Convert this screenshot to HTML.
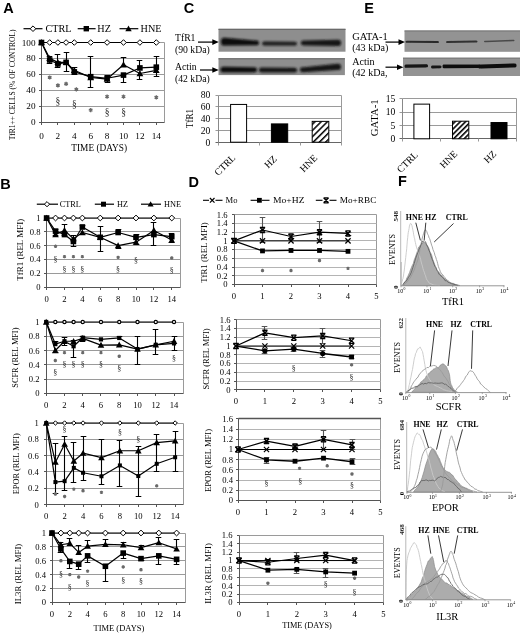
<!DOCTYPE html><html><head><meta charset="utf-8"><style>html,body{margin:0;padding:0;background:#fff;}svg{display:block;filter:grayscale(1) blur(0.35px);}</style></head><body>
<svg width="520" height="636" viewBox="0 0 520 636">
<defs><filter id="bl" x="-20%" y="-50%" width="140%" height="200%"><feGaussianBlur stdDeviation="1.2"/></filter><filter id="bl2" x="-20%" y="-50%" width="140%" height="200%"><feGaussianBlur stdDeviation="0.7"/></filter><pattern id="hatch" patternUnits="userSpaceOnUse" width="4.4" height="4.4" patternTransform="rotate(45)"><rect width="4.4" height="4.4" fill="#fff"/><rect width="1.5" height="4.4" fill="#000"/></pattern><pattern id="hatchE" patternUnits="userSpaceOnUse" width="3.7" height="3.7" patternTransform="rotate(45)"><rect width="3.7" height="3.7" fill="#fff"/><rect width="1.6" height="3.7" fill="#000"/></pattern></defs>
<rect width="520" height="636" fill="#fff"/>
<text x="3.20" y="12.60" font-family="'Liberation Sans', sans-serif" font-size="14.5" font-weight="bold" text-anchor="start" fill="#000">A</text>
<text x="0.20" y="188.50" font-family="'Liberation Sans', sans-serif" font-size="14.5" font-weight="bold" text-anchor="start" fill="#000">B</text>
<text x="183.80" y="12.60" font-family="'Liberation Sans', sans-serif" font-size="14.5" font-weight="bold" text-anchor="start" fill="#000">C</text>
<text x="188.60" y="187.10" font-family="'Liberation Sans', sans-serif" font-size="14.5" font-weight="bold" text-anchor="start" fill="#000">D</text>
<text x="364.30" y="12.50" font-family="'Liberation Sans', sans-serif" font-size="14.5" font-weight="bold" text-anchor="start" fill="#000">E</text>
<text x="398.00" y="186.40" font-family="'Liberation Sans', sans-serif" font-size="14.5" font-weight="bold" text-anchor="start" fill="#000">F</text>
<path d="M41.50,42.50L164.50,42.50L164.50,122.50" stroke="#9a9a9a" stroke-width="1" fill="none"/>
<line x1="41.50" y1="106.50" x2="164.50" y2="106.50" stroke="#9a9a9a" stroke-width="1"/>
<line x1="41.50" y1="90.50" x2="164.50" y2="90.50" stroke="#9a9a9a" stroke-width="1"/>
<line x1="41.50" y1="74.50" x2="164.50" y2="74.50" stroke="#9a9a9a" stroke-width="1"/>
<line x1="41.50" y1="58.50" x2="164.50" y2="58.50" stroke="#9a9a9a" stroke-width="1"/>
<line x1="41.50" y1="42.50" x2="41.50" y2="123.00" stroke="#555" stroke-width="1"/>
<line x1="39.00" y1="122.50" x2="164.50" y2="122.50" stroke="#555" stroke-width="1"/>
<line x1="39.00" y1="122.50" x2="41.50" y2="122.50" stroke="#555" stroke-width="1"/>
<text x="35.50" y="125.00" font-family="'Liberation Serif', serif" font-size="9.2" font-weight="normal" text-anchor="end" fill="#000">0</text>
<line x1="39.00" y1="106.50" x2="41.50" y2="106.50" stroke="#555" stroke-width="1"/>
<text x="35.50" y="109.10" font-family="'Liberation Serif', serif" font-size="9.2" font-weight="normal" text-anchor="end" fill="#000">20</text>
<line x1="39.00" y1="90.50" x2="41.50" y2="90.50" stroke="#555" stroke-width="1"/>
<text x="35.50" y="93.20" font-family="'Liberation Serif', serif" font-size="9.2" font-weight="normal" text-anchor="end" fill="#000">40</text>
<line x1="39.00" y1="74.50" x2="41.50" y2="74.50" stroke="#555" stroke-width="1"/>
<text x="35.50" y="77.30" font-family="'Liberation Serif', serif" font-size="9.2" font-weight="normal" text-anchor="end" fill="#000">60</text>
<line x1="39.00" y1="58.50" x2="41.50" y2="58.50" stroke="#555" stroke-width="1"/>
<text x="35.50" y="61.40" font-family="'Liberation Serif', serif" font-size="9.2" font-weight="normal" text-anchor="end" fill="#000">80</text>
<line x1="39.00" y1="42.50" x2="41.50" y2="42.50" stroke="#555" stroke-width="1"/>
<text x="35.50" y="45.50" font-family="'Liberation Serif', serif" font-size="9.2" font-weight="normal" text-anchor="end" fill="#000">100</text>
<line x1="41.50" y1="122.50" x2="41.50" y2="125.00" stroke="#555" stroke-width="1"/>
<text x="41.50" y="138.80" font-family="'Liberation Serif', serif" font-size="9.2" font-weight="normal" text-anchor="middle" fill="#000">0</text>
<line x1="57.50" y1="122.50" x2="57.50" y2="125.00" stroke="#555" stroke-width="1"/>
<text x="57.90" y="138.80" font-family="'Liberation Serif', serif" font-size="9.2" font-weight="normal" text-anchor="middle" fill="#000">2</text>
<line x1="74.50" y1="122.50" x2="74.50" y2="125.00" stroke="#555" stroke-width="1"/>
<text x="74.30" y="138.80" font-family="'Liberation Serif', serif" font-size="9.2" font-weight="normal" text-anchor="middle" fill="#000">4</text>
<line x1="90.50" y1="122.50" x2="90.50" y2="125.00" stroke="#555" stroke-width="1"/>
<text x="90.70" y="138.80" font-family="'Liberation Serif', serif" font-size="9.2" font-weight="normal" text-anchor="middle" fill="#000">6</text>
<line x1="107.50" y1="122.50" x2="107.50" y2="125.00" stroke="#555" stroke-width="1"/>
<text x="107.10" y="138.80" font-family="'Liberation Serif', serif" font-size="9.2" font-weight="normal" text-anchor="middle" fill="#000">8</text>
<line x1="123.50" y1="122.50" x2="123.50" y2="125.00" stroke="#555" stroke-width="1"/>
<text x="123.50" y="138.80" font-family="'Liberation Serif', serif" font-size="9.2" font-weight="normal" text-anchor="middle" fill="#000">10</text>
<line x1="139.50" y1="122.50" x2="139.50" y2="125.00" stroke="#555" stroke-width="1"/>
<text x="139.90" y="138.80" font-family="'Liberation Serif', serif" font-size="9.2" font-weight="normal" text-anchor="middle" fill="#000">12</text>
<line x1="156.50" y1="122.50" x2="156.50" y2="125.00" stroke="#555" stroke-width="1"/>
<text x="156.30" y="138.80" font-family="'Liberation Serif', serif" font-size="9.2" font-weight="normal" text-anchor="middle" fill="#000">14</text>
<path d="M49.50,58.40L49.50,56.50M46.70,56.50L52.30,56.50" stroke="#000" stroke-width="1.1" fill="none"/>
<path d="M49.50,59.99L49.50,63.50M46.70,63.50L52.30,63.50" stroke="#000" stroke-width="1.1" fill="none"/>
<path d="M57.50,62.38L57.50,54.50M54.70,54.50L60.30,54.50" stroke="#000" stroke-width="1.1" fill="none"/>
<path d="M57.50,63.97L57.50,67.50M54.70,67.50L60.30,67.50" stroke="#000" stroke-width="1.1" fill="none"/>
<path d="M66.50,62.38L66.50,52.50M63.70,52.50L69.30,52.50" stroke="#000" stroke-width="1.1" fill="none"/>
<path d="M66.50,62.38L66.50,71.50M63.70,71.50L69.30,71.50" stroke="#000" stroke-width="1.1" fill="none"/>
<path d="M74.50,70.32L74.50,67.50M71.70,67.50L77.30,67.50" stroke="#000" stroke-width="1.1" fill="none"/>
<path d="M74.50,71.91L74.50,74.50M71.70,74.50L77.30,74.50" stroke="#000" stroke-width="1.1" fill="none"/>
<path d="M90.50,76.69L90.50,56.50M87.70,56.50L93.30,56.50" stroke="#000" stroke-width="1.1" fill="none"/>
<path d="M90.50,77.48L90.50,87.50M87.70,87.50L93.30,87.50" stroke="#000" stroke-width="1.1" fill="none"/>
<path d="M107.50,78.28L107.50,75.50M104.70,75.50L110.30,75.50" stroke="#000" stroke-width="1.1" fill="none"/>
<path d="M107.50,79.07L107.50,82.50M104.70,82.50L110.30,82.50" stroke="#000" stroke-width="1.1" fill="none"/>
<path d="M123.50,64.76L123.50,57.50M120.70,57.50L126.30,57.50" stroke="#000" stroke-width="1.1" fill="none"/>
<path d="M123.50,75.09L123.50,82.50M120.70,82.50L126.30,82.50" stroke="#000" stroke-width="1.1" fill="none"/>
<path d="M139.50,67.94L139.50,60.50M136.70,60.50L142.30,60.50" stroke="#000" stroke-width="1.1" fill="none"/>
<path d="M139.50,73.50L139.50,79.50M136.70,79.50L142.30,79.50" stroke="#000" stroke-width="1.1" fill="none"/>
<path d="M156.50,67.15L156.50,56.50M153.70,56.50L159.30,56.50" stroke="#000" stroke-width="1.1" fill="none"/>
<path d="M156.50,70.32L156.50,76.50M153.70,76.50L159.30,76.50" stroke="#000" stroke-width="1.1" fill="none"/>
<polyline points="41.50,42.50 49.70,42.50 57.90,42.50 66.10,42.50 74.30,42.50 90.70,42.50 107.10,42.50 123.50,42.50 139.90,42.50 156.30,42.50" fill="none" stroke="#000" stroke-width="1.2" stroke-linejoin="round"/>
<polyline points="41.50,42.50 49.70,58.40 57.90,62.38 66.10,62.38 74.30,70.32 90.70,77.48 107.10,79.07 123.50,64.76 139.90,73.50 156.30,70.32" fill="none" stroke="#000" stroke-width="1.2" stroke-linejoin="round"/>
<polyline points="41.50,42.50 49.70,59.99 57.90,63.97 66.10,62.38 74.30,71.91 90.70,76.69 107.10,78.28 123.50,75.09 139.90,67.94 156.30,67.15" fill="none" stroke="#000" stroke-width="1.2" stroke-linejoin="round"/>
<polygon points="49.70,39.70 52.50,42.50 49.70,45.30 46.90,42.50" fill="#fff" stroke="#000" stroke-width="1"/>
<polygon points="57.90,39.70 60.70,42.50 57.90,45.30 55.10,42.50" fill="#fff" stroke="#000" stroke-width="1"/>
<polygon points="66.10,39.70 68.90,42.50 66.10,45.30 63.30,42.50" fill="#fff" stroke="#000" stroke-width="1"/>
<polygon points="74.30,39.70 77.10,42.50 74.30,45.30 71.50,42.50" fill="#fff" stroke="#000" stroke-width="1"/>
<polygon points="90.70,39.70 93.50,42.50 90.70,45.30 87.90,42.50" fill="#fff" stroke="#000" stroke-width="1"/>
<polygon points="107.10,39.70 109.90,42.50 107.10,45.30 104.30,42.50" fill="#fff" stroke="#000" stroke-width="1"/>
<polygon points="123.50,39.70 126.30,42.50 123.50,45.30 120.70,42.50" fill="#fff" stroke="#000" stroke-width="1"/>
<polygon points="139.90,39.70 142.70,42.50 139.90,45.30 137.10,42.50" fill="#fff" stroke="#000" stroke-width="1"/>
<polygon points="156.30,39.70 159.10,42.50 156.30,45.30 153.50,42.50" fill="#fff" stroke="#000" stroke-width="1"/>
<polygon points="41.50,39.10 44.90,45.22 38.10,45.22" fill="#000"/>
<polygon points="49.70,55.00 53.10,61.12 46.30,61.12" fill="#000"/>
<polygon points="57.90,58.98 61.30,65.09 54.50,65.09" fill="#000"/>
<polygon points="66.10,58.98 69.50,65.09 62.70,65.09" fill="#000"/>
<polygon points="74.30,66.92 77.70,73.04 70.90,73.04" fill="#000"/>
<polygon points="90.70,74.08 94.10,80.20 87.30,80.20" fill="#000"/>
<polygon points="107.10,75.67 110.50,81.79 103.70,81.79" fill="#000"/>
<polygon points="123.50,61.36 126.90,67.48 120.10,67.48" fill="#000"/>
<polygon points="139.90,70.10 143.30,76.22 136.50,76.22" fill="#000"/>
<polygon points="156.30,66.92 159.70,73.04 152.90,73.04" fill="#000"/>
<rect x="38.70" y="39.70" width="5.60" height="5.60" fill="#000"/>
<rect x="46.90" y="57.19" width="5.60" height="5.60" fill="#000"/>
<rect x="55.10" y="61.17" width="5.60" height="5.60" fill="#000"/>
<rect x="63.30" y="59.58" width="5.60" height="5.60" fill="#000"/>
<rect x="71.50" y="69.11" width="5.60" height="5.60" fill="#000"/>
<rect x="87.90" y="73.89" width="5.60" height="5.60" fill="#000"/>
<rect x="104.30" y="75.48" width="5.60" height="5.60" fill="#000"/>
<rect x="120.70" y="72.30" width="5.60" height="5.60" fill="#000"/>
<rect x="137.10" y="65.14" width="5.60" height="5.60" fill="#000"/>
<rect x="153.50" y="64.35" width="5.60" height="5.60" fill="#000"/>
<path d="M49.70,75.38L49.70,79.58M51.52,76.43L47.88,78.53M51.52,78.53L47.88,76.43" stroke="#6a6a6a" stroke-width="1.3" fill="none"/>
<circle cx="49.70" cy="77.48" r="1.1" fill="#6a6a6a"/>
<path d="M57.90,83.33L57.90,87.53M59.72,84.38L56.08,86.48M59.72,86.48L56.08,84.38" stroke="#6a6a6a" stroke-width="1.3" fill="none"/>
<circle cx="57.90" cy="85.43" r="1.1" fill="#6a6a6a"/>
<path d="M66.10,81.74L66.10,85.94M67.92,82.79L64.28,84.89M67.92,84.89L64.28,82.79" stroke="#6a6a6a" stroke-width="1.3" fill="none"/>
<circle cx="66.10" cy="83.84" r="1.1" fill="#6a6a6a"/>
<path d="M76.35,87.31L76.35,91.50M78.17,88.36L74.53,90.45M78.17,90.45L74.53,88.36" stroke="#6a6a6a" stroke-width="1.3" fill="none"/>
<circle cx="76.35" cy="89.41" r="1.1" fill="#6a6a6a"/>
<path d="M90.70,107.98L90.70,112.17M92.52,109.03L88.88,111.12M92.52,111.12L88.88,109.03" stroke="#6a6a6a" stroke-width="1.3" fill="none"/>
<circle cx="90.70" cy="110.08" r="1.1" fill="#6a6a6a"/>
<path d="M107.10,94.46L107.10,98.66M108.92,95.51L105.28,97.61M108.92,97.61L105.28,95.51" stroke="#6a6a6a" stroke-width="1.3" fill="none"/>
<circle cx="107.10" cy="96.56" r="1.1" fill="#6a6a6a"/>
<path d="M123.50,94.46L123.50,98.66M125.32,95.51L121.68,97.61M125.32,97.61L121.68,95.51" stroke="#6a6a6a" stroke-width="1.3" fill="none"/>
<circle cx="123.50" cy="96.56" r="1.1" fill="#6a6a6a"/>
<path d="M156.30,95.26L156.30,99.45M158.12,96.31L154.48,98.41M158.12,98.41L154.48,96.31" stroke="#6a6a6a" stroke-width="1.3" fill="none"/>
<circle cx="156.30" cy="97.36" r="1.1" fill="#6a6a6a"/>
<text x="57.90" y="104.12" font-family="'Liberation Serif', serif" font-size="9.5" font-weight="normal" text-anchor="middle" fill="#2a2a2a">§</text>
<text x="74.30" y="106.51" font-family="'Liberation Serif', serif" font-size="9.5" font-weight="normal" text-anchor="middle" fill="#2a2a2a">§</text>
<text x="107.10" y="115.25" font-family="'Liberation Serif', serif" font-size="9.5" font-weight="normal" text-anchor="middle" fill="#2a2a2a">§</text>
<text x="123.50" y="115.25" font-family="'Liberation Serif', serif" font-size="9.5" font-weight="normal" text-anchor="middle" fill="#2a2a2a">§</text>
<line x1="23.50" y1="28.70" x2="42.50" y2="28.70" stroke="#000" stroke-width="1.2"/>
<polygon points="33.00,25.90 35.80,28.70 33.00,31.50 30.20,28.70" fill="#fff" stroke="#000" stroke-width="1"/>
<text x="45.40" y="32.10" font-family="'Liberation Serif', serif" font-size="10.2" font-weight="normal" text-anchor="start" fill="#000">CTRL</text>
<line x1="77.70" y1="28.70" x2="95.60" y2="28.70" stroke="#000" stroke-width="1.2"/>
<rect x="83.60" y="26.00" width="5.40" height="5.40" fill="#000"/>
<text x="97.30" y="32.10" font-family="'Liberation Serif', serif" font-size="10.2" font-weight="normal" text-anchor="start" fill="#000">HZ</text>
<line x1="119.50" y1="28.70" x2="138.30" y2="28.70" stroke="#000" stroke-width="1.2"/>
<polygon points="128.50,25.50 131.70,31.26 125.30,31.26" fill="#000"/>
<text x="140.60" y="32.10" font-family="'Liberation Serif', serif" font-size="10.2" font-weight="normal" text-anchor="start" fill="#000">HNE</text>
<text x="99.20" y="150.50" font-family="'Liberation Serif', serif" font-size="9.3" font-weight="normal" text-anchor="middle" fill="#000">TIME (DAYS)</text>
<text x="15.30" y="84.90" font-family="'Liberation Serif', serif" font-size="7.5" font-weight="normal" text-anchor="middle" fill="#000" transform="rotate(-90 15.30 84.90)">TfR1++ CELLS (% OF CONTROL)</text>
<path d="M46.50,218.50L180.50,218.50L180.50,287.50" stroke="#9a9a9a" stroke-width="1" fill="none"/>
<line x1="46.50" y1="273.50" x2="180.50" y2="273.50" stroke="#9a9a9a" stroke-width="1"/>
<line x1="46.50" y1="259.50" x2="180.50" y2="259.50" stroke="#9a9a9a" stroke-width="1"/>
<line x1="46.50" y1="245.50" x2="180.50" y2="245.50" stroke="#9a9a9a" stroke-width="1"/>
<line x1="46.50" y1="231.50" x2="180.50" y2="231.50" stroke="#9a9a9a" stroke-width="1"/>
<line x1="46.50" y1="218.50" x2="46.50" y2="288.00" stroke="#555" stroke-width="1"/>
<line x1="44.00" y1="287.50" x2="180.50" y2="287.50" stroke="#555" stroke-width="1"/>
<line x1="44.00" y1="287.50" x2="46.50" y2="287.50" stroke="#555" stroke-width="1"/>
<text x="40.50" y="290.00" font-family="'Liberation Serif', serif" font-size="8.6" font-weight="normal" text-anchor="end" fill="#000">0</text>
<line x1="44.00" y1="273.50" x2="46.50" y2="273.50" stroke="#555" stroke-width="1"/>
<text x="40.50" y="276.20" font-family="'Liberation Serif', serif" font-size="8.6" font-weight="normal" text-anchor="end" fill="#000">0.2</text>
<line x1="44.00" y1="259.50" x2="46.50" y2="259.50" stroke="#555" stroke-width="1"/>
<text x="40.50" y="262.40" font-family="'Liberation Serif', serif" font-size="8.6" font-weight="normal" text-anchor="end" fill="#000">0.4</text>
<line x1="44.00" y1="245.50" x2="46.50" y2="245.50" stroke="#555" stroke-width="1"/>
<text x="40.50" y="248.60" font-family="'Liberation Serif', serif" font-size="8.6" font-weight="normal" text-anchor="end" fill="#000">0.6</text>
<line x1="44.00" y1="231.50" x2="46.50" y2="231.50" stroke="#555" stroke-width="1"/>
<text x="40.50" y="234.80" font-family="'Liberation Serif', serif" font-size="8.6" font-weight="normal" text-anchor="end" fill="#000">0.8</text>
<line x1="44.00" y1="218.50" x2="46.50" y2="218.50" stroke="#555" stroke-width="1"/>
<text x="40.50" y="221.00" font-family="'Liberation Serif', serif" font-size="8.6" font-weight="normal" text-anchor="end" fill="#000">1</text>
<line x1="46.50" y1="287.50" x2="46.50" y2="290.00" stroke="#555" stroke-width="1"/>
<text x="46.60" y="301.80" font-family="'Liberation Serif', serif" font-size="8.6" font-weight="normal" text-anchor="middle" fill="#000">0</text>
<line x1="64.50" y1="287.50" x2="64.50" y2="290.00" stroke="#555" stroke-width="1"/>
<text x="64.48" y="301.80" font-family="'Liberation Serif', serif" font-size="8.6" font-weight="normal" text-anchor="middle" fill="#000">2</text>
<line x1="82.50" y1="287.50" x2="82.50" y2="290.00" stroke="#555" stroke-width="1"/>
<text x="82.36" y="301.80" font-family="'Liberation Serif', serif" font-size="8.6" font-weight="normal" text-anchor="middle" fill="#000">4</text>
<line x1="100.50" y1="287.50" x2="100.50" y2="290.00" stroke="#555" stroke-width="1"/>
<text x="100.24" y="301.80" font-family="'Liberation Serif', serif" font-size="8.6" font-weight="normal" text-anchor="middle" fill="#000">6</text>
<line x1="118.50" y1="287.50" x2="118.50" y2="290.00" stroke="#555" stroke-width="1"/>
<text x="118.12" y="301.80" font-family="'Liberation Serif', serif" font-size="8.6" font-weight="normal" text-anchor="middle" fill="#000">8</text>
<line x1="136.50" y1="287.50" x2="136.50" y2="290.00" stroke="#555" stroke-width="1"/>
<text x="136.00" y="301.80" font-family="'Liberation Serif', serif" font-size="8.6" font-weight="normal" text-anchor="middle" fill="#000">10</text>
<line x1="153.50" y1="287.50" x2="153.50" y2="290.00" stroke="#555" stroke-width="1"/>
<text x="153.88" y="301.80" font-family="'Liberation Serif', serif" font-size="8.6" font-weight="normal" text-anchor="middle" fill="#000">12</text>
<line x1="171.50" y1="287.50" x2="171.50" y2="290.00" stroke="#555" stroke-width="1"/>
<text x="171.76" y="301.80" font-family="'Liberation Serif', serif" font-size="8.6" font-weight="normal" text-anchor="middle" fill="#000">14</text>
<path d="M55.50,231.11L55.50,229.50M52.70,229.50L58.30,229.50" stroke="#000" stroke-width="1.1" fill="none"/>
<path d="M55.50,234.56L55.50,235.50M52.70,235.50L58.30,235.50" stroke="#000" stroke-width="1.1" fill="none"/>
<path d="M64.50,230.42L64.50,224.50M61.70,224.50L67.30,224.50" stroke="#000" stroke-width="1.1" fill="none"/>
<path d="M64.50,234.56L64.50,235.50M61.70,235.50L67.30,235.50" stroke="#000" stroke-width="1.1" fill="none"/>
<path d="M73.50,238.70L73.50,235.50M70.70,235.50L76.30,235.50" stroke="#000" stroke-width="1.1" fill="none"/>
<path d="M73.50,241.46L73.50,246.50M70.70,246.50L76.30,246.50" stroke="#000" stroke-width="1.1" fill="none"/>
<path d="M82.50,226.97L82.50,225.50M79.70,225.50L85.30,225.50" stroke="#000" stroke-width="1.1" fill="none"/>
<path d="M82.50,232.49L82.50,234.50M79.70,234.50L85.30,234.50" stroke="#000" stroke-width="1.1" fill="none"/>
<path d="M100.50,237.32L100.50,226.50M97.70,226.50L103.30,226.50" stroke="#000" stroke-width="1.1" fill="none"/>
<path d="M100.50,237.32L100.50,251.50M97.70,251.50L103.30,251.50" stroke="#000" stroke-width="1.1" fill="none"/>
<path d="M118.50,232.49L118.50,229.50M115.70,229.50L121.30,229.50" stroke="#000" stroke-width="1.1" fill="none"/>
<path d="M118.50,245.60L118.50,248.50M115.70,248.50L121.30,248.50" stroke="#000" stroke-width="1.1" fill="none"/>
<path d="M136.50,237.32L136.50,234.50M133.70,234.50L139.30,234.50" stroke="#000" stroke-width="1.1" fill="none"/>
<path d="M136.50,242.15L136.50,244.50M133.70,244.50L139.30,244.50" stroke="#000" stroke-width="1.1" fill="none"/>
<path d="M153.50,230.42L153.50,222.50M150.70,222.50L156.30,222.50" stroke="#000" stroke-width="1.1" fill="none"/>
<path d="M153.50,234.56L153.50,245.50M150.70,245.50L156.30,245.50" stroke="#000" stroke-width="1.1" fill="none"/>
<path d="M171.50,236.63L171.50,233.50M168.70,233.50L174.30,233.50" stroke="#000" stroke-width="1.1" fill="none"/>
<path d="M171.50,240.08L171.50,242.50M168.70,242.50L174.30,242.50" stroke="#000" stroke-width="1.1" fill="none"/>
<polyline points="46.60,218.00 55.54,218.00 64.48,218.00 73.42,218.00 82.36,218.00 100.24,218.00 118.12,218.00 136.00,218.00 153.88,218.00 171.76,218.00" fill="none" stroke="#000" stroke-width="1.2" stroke-linejoin="round"/>
<polyline points="46.60,218.00 55.54,234.56 64.48,230.42 73.42,238.70 82.36,232.49 100.24,237.32 118.12,245.60 136.00,242.15 153.88,230.42 171.76,240.08" fill="none" stroke="#000" stroke-width="1.2" stroke-linejoin="round"/>
<polyline points="46.60,218.00 55.54,231.11 64.48,234.56 73.42,241.46 82.36,226.97 100.24,237.32 118.12,232.49 136.00,237.32 153.88,234.56 171.76,236.63" fill="none" stroke="#000" stroke-width="1.2" stroke-linejoin="round"/>
<polygon points="55.54,215.10 58.44,218.00 55.54,220.90 52.64,218.00" fill="#fff" stroke="#000" stroke-width="1"/>
<polygon points="64.48,215.10 67.38,218.00 64.48,220.90 61.58,218.00" fill="#fff" stroke="#000" stroke-width="1"/>
<polygon points="73.42,215.10 76.32,218.00 73.42,220.90 70.52,218.00" fill="#fff" stroke="#000" stroke-width="1"/>
<polygon points="82.36,215.10 85.26,218.00 82.36,220.90 79.46,218.00" fill="#fff" stroke="#000" stroke-width="1"/>
<polygon points="100.24,215.10 103.14,218.00 100.24,220.90 97.34,218.00" fill="#fff" stroke="#000" stroke-width="1"/>
<polygon points="118.12,215.10 121.02,218.00 118.12,220.90 115.22,218.00" fill="#fff" stroke="#000" stroke-width="1"/>
<polygon points="136.00,215.10 138.90,218.00 136.00,220.90 133.10,218.00" fill="#fff" stroke="#000" stroke-width="1"/>
<polygon points="153.88,215.10 156.78,218.00 153.88,220.90 150.98,218.00" fill="#fff" stroke="#000" stroke-width="1"/>
<polygon points="171.76,215.10 174.66,218.00 171.76,220.90 168.86,218.00" fill="#fff" stroke="#000" stroke-width="1"/>
<polygon points="46.60,214.70 49.90,220.64 43.30,220.64" fill="#000"/>
<polygon points="55.54,231.26 58.84,237.20 52.24,237.20" fill="#000"/>
<polygon points="64.48,227.12 67.78,233.06 61.18,233.06" fill="#000"/>
<polygon points="73.42,235.40 76.72,241.34 70.12,241.34" fill="#000"/>
<polygon points="82.36,229.19 85.66,235.13 79.06,235.13" fill="#000"/>
<polygon points="100.24,234.02 103.54,239.96 96.94,239.96" fill="#000"/>
<polygon points="118.12,242.30 121.42,248.24 114.82,248.24" fill="#000"/>
<polygon points="136.00,238.85 139.30,244.79 132.70,244.79" fill="#000"/>
<polygon points="153.88,227.12 157.18,233.06 150.58,233.06" fill="#000"/>
<polygon points="171.76,236.78 175.06,242.72 168.46,242.72" fill="#000"/>
<rect x="43.80" y="215.20" width="5.60" height="5.60" fill="#000"/>
<rect x="52.74" y="228.31" width="5.60" height="5.60" fill="#000"/>
<rect x="61.68" y="231.76" width="5.60" height="5.60" fill="#000"/>
<rect x="70.62" y="238.66" width="5.60" height="5.60" fill="#000"/>
<rect x="79.56" y="224.17" width="5.60" height="5.60" fill="#000"/>
<rect x="97.44" y="234.52" width="5.60" height="5.60" fill="#000"/>
<rect x="115.32" y="229.69" width="5.60" height="5.60" fill="#000"/>
<rect x="133.20" y="234.52" width="5.60" height="5.60" fill="#000"/>
<rect x="151.08" y="231.76" width="5.60" height="5.60" fill="#000"/>
<rect x="168.96" y="233.83" width="5.60" height="5.60" fill="#000"/>
<path d="M55.54,244.59L55.54,247.99M57.01,245.44L54.07,247.14M57.01,247.14L54.07,245.44" stroke="#6a6a6a" stroke-width="1.3" fill="none"/>
<circle cx="55.54" cy="246.29" r="1.1" fill="#6a6a6a"/>
<path d="M64.48,254.94L64.48,258.34M65.95,255.79L63.01,257.49M65.95,257.49L63.01,255.79" stroke="#6a6a6a" stroke-width="1.3" fill="none"/>
<circle cx="64.48" cy="256.64" r="1.1" fill="#6a6a6a"/>
<path d="M73.42,254.94L73.42,258.34M74.89,255.79L71.95,257.49M74.89,257.49L71.95,255.79" stroke="#6a6a6a" stroke-width="1.3" fill="none"/>
<circle cx="73.42" cy="256.64" r="1.1" fill="#6a6a6a"/>
<path d="M82.36,254.94L82.36,258.34M83.83,255.79L80.89,257.49M83.83,257.49L80.89,255.79" stroke="#6a6a6a" stroke-width="1.3" fill="none"/>
<circle cx="82.36" cy="256.64" r="1.1" fill="#6a6a6a"/>
<path d="M118.12,255.63L118.12,259.03M119.59,256.48L116.65,258.18M119.59,258.18L116.65,256.48" stroke="#6a6a6a" stroke-width="1.3" fill="none"/>
<circle cx="118.12" cy="257.33" r="1.1" fill="#6a6a6a"/>
<path d="M171.76,256.32L171.76,259.72M173.23,257.17L170.29,258.87M173.23,258.87L170.29,257.17" stroke="#6a6a6a" stroke-width="1.3" fill="none"/>
<circle cx="171.76" cy="258.02" r="1.1" fill="#6a6a6a"/>
<text x="55.54" y="262.09" font-family="'Liberation Serif', serif" font-size="8" font-weight="normal" text-anchor="middle" fill="#2a2a2a">§</text>
<text x="64.48" y="272.44" font-family="'Liberation Serif', serif" font-size="8" font-weight="normal" text-anchor="middle" fill="#2a2a2a">§</text>
<text x="73.42" y="272.44" font-family="'Liberation Serif', serif" font-size="8" font-weight="normal" text-anchor="middle" fill="#2a2a2a">§</text>
<text x="82.36" y="272.44" font-family="'Liberation Serif', serif" font-size="8" font-weight="normal" text-anchor="middle" fill="#2a2a2a">§</text>
<text x="118.12" y="271.75" font-family="'Liberation Serif', serif" font-size="8" font-weight="normal" text-anchor="middle" fill="#2a2a2a">§</text>
<text x="136.00" y="262.78" font-family="'Liberation Serif', serif" font-size="8" font-weight="normal" text-anchor="middle" fill="#2a2a2a">§</text>
<text x="171.76" y="273.13" font-family="'Liberation Serif', serif" font-size="8" font-weight="normal" text-anchor="middle" fill="#2a2a2a">§</text>
<text x="23.30" y="249.80" font-family="'Liberation Serif', serif" font-size="8.3" font-weight="normal" text-anchor="middle" fill="#000" transform="rotate(-90 23.30 249.80)" textLength="62" lengthAdjust="spacingAndGlyphs">TfR1 (REL MFI)</text>
<line x1="36.80" y1="204.20" x2="58.00" y2="204.20" stroke="#000" stroke-width="1.2"/>
<polygon points="47.00,201.60 49.60,204.20 47.00,206.80 44.40,204.20" fill="#fff" stroke="#000" stroke-width="1"/>
<text x="59.70" y="207.20" font-family="'Liberation Serif', serif" font-size="8.3" font-weight="normal" text-anchor="start" fill="#000">CTRL</text>
<line x1="94.80" y1="204.20" x2="114.00" y2="204.20" stroke="#000" stroke-width="1.2"/>
<rect x="101.00" y="201.70" width="5.00" height="5.00" fill="#000"/>
<text x="117.00" y="207.20" font-family="'Liberation Serif', serif" font-size="8.3" font-weight="normal" text-anchor="start" fill="#000">HZ</text>
<line x1="141.00" y1="204.20" x2="161.00" y2="204.20" stroke="#000" stroke-width="1.2"/>
<polygon points="150.60,201.20 153.60,206.60 147.60,206.60" fill="#000"/>
<text x="164.00" y="207.20" font-family="'Liberation Serif', serif" font-size="8.3" font-weight="normal" text-anchor="start" fill="#000">HNE</text>
<path d="M46.50,322.50L183.50,322.50L183.50,393.50" stroke="#9a9a9a" stroke-width="1" fill="none"/>
<line x1="46.50" y1="379.50" x2="183.50" y2="379.50" stroke="#9a9a9a" stroke-width="1"/>
<line x1="46.50" y1="364.50" x2="183.50" y2="364.50" stroke="#9a9a9a" stroke-width="1"/>
<line x1="46.50" y1="350.50" x2="183.50" y2="350.50" stroke="#9a9a9a" stroke-width="1"/>
<line x1="46.50" y1="336.50" x2="183.50" y2="336.50" stroke="#9a9a9a" stroke-width="1"/>
<line x1="46.50" y1="322.50" x2="46.50" y2="394.00" stroke="#555" stroke-width="1"/>
<line x1="44.00" y1="393.50" x2="183.50" y2="393.50" stroke="#555" stroke-width="1"/>
<line x1="44.00" y1="393.50" x2="46.50" y2="393.50" stroke="#555" stroke-width="1"/>
<text x="39.50" y="396.30" font-family="'Liberation Serif', serif" font-size="8.6" font-weight="normal" text-anchor="end" fill="#000">0</text>
<line x1="44.00" y1="379.50" x2="46.50" y2="379.50" stroke="#555" stroke-width="1"/>
<text x="39.50" y="382.04" font-family="'Liberation Serif', serif" font-size="8.6" font-weight="normal" text-anchor="end" fill="#000">0.2</text>
<line x1="44.00" y1="364.50" x2="46.50" y2="364.50" stroke="#555" stroke-width="1"/>
<text x="39.50" y="367.78" font-family="'Liberation Serif', serif" font-size="8.6" font-weight="normal" text-anchor="end" fill="#000">0.4</text>
<line x1="44.00" y1="350.50" x2="46.50" y2="350.50" stroke="#555" stroke-width="1"/>
<text x="39.50" y="353.52" font-family="'Liberation Serif', serif" font-size="8.6" font-weight="normal" text-anchor="end" fill="#000">0.6</text>
<line x1="44.00" y1="336.50" x2="46.50" y2="336.50" stroke="#555" stroke-width="1"/>
<text x="39.50" y="339.26" font-family="'Liberation Serif', serif" font-size="8.6" font-weight="normal" text-anchor="end" fill="#000">0.8</text>
<line x1="44.00" y1="322.50" x2="46.50" y2="322.50" stroke="#555" stroke-width="1"/>
<text x="39.50" y="325.00" font-family="'Liberation Serif', serif" font-size="8.6" font-weight="normal" text-anchor="end" fill="#000">1</text>
<line x1="46.50" y1="393.50" x2="46.50" y2="396.00" stroke="#555" stroke-width="1"/>
<text x="46.20" y="408.10" font-family="'Liberation Serif', serif" font-size="8.6" font-weight="normal" text-anchor="middle" fill="#000">0</text>
<line x1="64.50" y1="393.50" x2="64.50" y2="396.00" stroke="#555" stroke-width="1"/>
<text x="64.46" y="408.10" font-family="'Liberation Serif', serif" font-size="8.6" font-weight="normal" text-anchor="middle" fill="#000">2</text>
<line x1="82.50" y1="393.50" x2="82.50" y2="396.00" stroke="#555" stroke-width="1"/>
<text x="82.72" y="408.10" font-family="'Liberation Serif', serif" font-size="8.6" font-weight="normal" text-anchor="middle" fill="#000">4</text>
<line x1="100.50" y1="393.50" x2="100.50" y2="396.00" stroke="#555" stroke-width="1"/>
<text x="100.98" y="408.10" font-family="'Liberation Serif', serif" font-size="8.6" font-weight="normal" text-anchor="middle" fill="#000">6</text>
<line x1="119.50" y1="393.50" x2="119.50" y2="396.00" stroke="#555" stroke-width="1"/>
<text x="119.24" y="408.10" font-family="'Liberation Serif', serif" font-size="8.6" font-weight="normal" text-anchor="middle" fill="#000">8</text>
<line x1="137.50" y1="393.50" x2="137.50" y2="396.00" stroke="#555" stroke-width="1"/>
<text x="137.50" y="408.10" font-family="'Liberation Serif', serif" font-size="8.6" font-weight="normal" text-anchor="middle" fill="#000">10</text>
<line x1="155.50" y1="393.50" x2="155.50" y2="396.00" stroke="#555" stroke-width="1"/>
<text x="155.76" y="408.10" font-family="'Liberation Serif', serif" font-size="8.6" font-weight="normal" text-anchor="middle" fill="#000">12</text>
<line x1="174.50" y1="393.50" x2="174.50" y2="396.00" stroke="#555" stroke-width="1"/>
<text x="174.02" y="408.10" font-family="'Liberation Serif', serif" font-size="8.6" font-weight="normal" text-anchor="middle" fill="#000">14</text>
<path d="M55.50,344.10L55.50,341.50M52.70,341.50L58.30,341.50" stroke="#000" stroke-width="1.1" fill="none"/>
<path d="M55.50,350.52L55.50,352.50M52.70,352.50L58.30,352.50" stroke="#000" stroke-width="1.1" fill="none"/>
<path d="M64.50,341.25L64.50,337.50M61.70,337.50L67.30,337.50" stroke="#000" stroke-width="1.1" fill="none"/>
<path d="M64.50,341.25L64.50,345.50M61.70,345.50L67.30,345.50" stroke="#000" stroke-width="1.1" fill="none"/>
<path d="M73.50,341.25L73.50,340.50M70.70,340.50L76.30,340.50" stroke="#000" stroke-width="1.1" fill="none"/>
<path d="M73.50,346.24L73.50,357.50M70.70,357.50L76.30,357.50" stroke="#000" stroke-width="1.1" fill="none"/>
<path d="M82.50,337.69L82.50,336.50M79.70,336.50L85.30,336.50" stroke="#000" stroke-width="1.1" fill="none"/>
<path d="M82.50,338.40L82.50,341.50M79.70,341.50L85.30,341.50" stroke="#000" stroke-width="1.1" fill="none"/>
<path d="M119.50,337.97L119.50,336.50M116.70,336.50L122.30,336.50" stroke="#000" stroke-width="1.1" fill="none"/>
<path d="M137.50,349.09L137.50,336.50M134.70,336.50L140.30,336.50" stroke="#000" stroke-width="1.1" fill="none"/>
<path d="M137.50,349.09L137.50,364.50M134.70,364.50L140.30,364.50" stroke="#000" stroke-width="1.1" fill="none"/>
<path d="M155.50,344.82L155.50,329.50M152.70,329.50L158.30,329.50" stroke="#000" stroke-width="1.1" fill="none"/>
<path d="M155.50,344.82L155.50,354.50M152.70,354.50L158.30,354.50" stroke="#000" stroke-width="1.1" fill="none"/>
<path d="M174.50,341.25L174.50,336.50M171.70,336.50L177.30,336.50" stroke="#000" stroke-width="1.1" fill="none"/>
<path d="M174.50,343.39L174.50,350.50M171.70,350.50L177.30,350.50" stroke="#000" stroke-width="1.1" fill="none"/>
<polyline points="46.20,322.00 55.33,322.00 64.46,322.00 73.59,322.00 82.72,322.00 100.98,322.00 119.24,322.00 137.50,322.00 155.76,322.00 174.02,322.00" fill="none" stroke="#000" stroke-width="1.2" stroke-linejoin="round"/>
<polyline points="46.20,322.00 55.33,350.52 64.46,341.25 73.59,341.25 82.72,338.40 100.98,345.17 119.24,344.82 137.50,349.09 155.76,344.82 174.02,341.25" fill="none" stroke="#000" stroke-width="1.2" stroke-linejoin="round"/>
<polyline points="46.20,322.00 55.33,344.10 64.46,341.25 73.59,346.24 82.72,337.69 100.98,339.40 119.24,337.97 137.50,349.09 155.76,344.82 174.02,343.39" fill="none" stroke="#000" stroke-width="1.2" stroke-linejoin="round"/>
<circle cx="55.33" cy="322.00" r="1.6" fill="#fff" stroke="#000" stroke-width="1.15"/>
<circle cx="64.46" cy="322.00" r="1.6" fill="#fff" stroke="#000" stroke-width="1.15"/>
<circle cx="73.59" cy="322.00" r="1.6" fill="#fff" stroke="#000" stroke-width="1.15"/>
<circle cx="82.72" cy="322.00" r="1.6" fill="#fff" stroke="#000" stroke-width="1.15"/>
<circle cx="100.98" cy="322.00" r="1.6" fill="#fff" stroke="#000" stroke-width="1.15"/>
<circle cx="119.24" cy="322.00" r="1.6" fill="#fff" stroke="#000" stroke-width="1.15"/>
<circle cx="137.50" cy="322.00" r="1.6" fill="#fff" stroke="#000" stroke-width="1.15"/>
<circle cx="155.76" cy="322.00" r="1.6" fill="#fff" stroke="#000" stroke-width="1.15"/>
<circle cx="174.02" cy="322.00" r="1.6" fill="#fff" stroke="#000" stroke-width="1.15"/>
<polygon points="46.20,318.70 49.50,324.64 42.90,324.64" fill="#000"/>
<polygon points="55.33,347.22 58.63,353.16 52.03,353.16" fill="#000"/>
<polygon points="64.46,337.95 67.76,343.89 61.16,343.89" fill="#000"/>
<polygon points="73.59,337.95 76.89,343.89 70.29,343.89" fill="#000"/>
<polygon points="82.72,335.10 86.02,341.04 79.42,341.04" fill="#000"/>
<polygon points="100.98,341.87 104.28,347.81 97.68,347.81" fill="#000"/>
<polygon points="119.24,341.52 122.54,347.46 115.94,347.46" fill="#000"/>
<polygon points="137.50,345.79 140.80,351.73 134.20,351.73" fill="#000"/>
<polygon points="155.76,341.52 159.06,347.46 152.46,347.46" fill="#000"/>
<polygon points="174.02,337.95 177.32,343.89 170.72,343.89" fill="#000"/>
<rect x="44.10" y="319.90" width="4.20" height="4.20" fill="#000"/>
<rect x="53.23" y="342.00" width="4.20" height="4.20" fill="#000"/>
<rect x="62.36" y="339.15" width="4.20" height="4.20" fill="#000"/>
<rect x="71.49" y="344.14" width="4.20" height="4.20" fill="#000"/>
<rect x="80.62" y="335.59" width="4.20" height="4.20" fill="#000"/>
<rect x="98.88" y="337.30" width="4.20" height="4.20" fill="#000"/>
<rect x="117.14" y="335.87" width="4.20" height="4.20" fill="#000"/>
<rect x="135.40" y="346.99" width="4.20" height="4.20" fill="#000"/>
<rect x="153.66" y="342.72" width="4.20" height="4.20" fill="#000"/>
<rect x="171.92" y="341.29" width="4.20" height="4.20" fill="#000"/>
<path d="M55.33,358.80L55.33,362.20M56.80,359.65L53.86,361.35M56.80,361.35L53.86,359.65" stroke="#6a6a6a" stroke-width="1.3" fill="none"/>
<circle cx="55.33" cy="360.50" r="1.1" fill="#6a6a6a"/>
<path d="M64.46,350.96L64.46,354.36M65.93,351.81L62.99,353.51M65.93,353.51L62.99,351.81" stroke="#6a6a6a" stroke-width="1.3" fill="none"/>
<circle cx="64.46" cy="352.66" r="1.1" fill="#6a6a6a"/>
<path d="M82.72,350.96L82.72,354.36M84.19,351.81L81.25,353.51M84.19,353.51L81.25,351.81" stroke="#6a6a6a" stroke-width="1.3" fill="none"/>
<circle cx="82.72" cy="352.66" r="1.1" fill="#6a6a6a"/>
<path d="M100.98,350.96L100.98,354.36M102.45,351.81L99.51,353.51M102.45,353.51L99.51,351.81" stroke="#6a6a6a" stroke-width="1.3" fill="none"/>
<circle cx="100.98" cy="352.66" r="1.1" fill="#6a6a6a"/>
<path d="M119.24,354.52L119.24,357.92M120.71,355.37L117.77,357.07M120.71,357.07L117.77,355.37" stroke="#6a6a6a" stroke-width="1.3" fill="none"/>
<circle cx="119.24" cy="356.22" r="1.1" fill="#6a6a6a"/>
<text x="55.33" y="375.34" font-family="'Liberation Serif', serif" font-size="8" font-weight="normal" text-anchor="middle" fill="#2a2a2a">§</text>
<text x="64.46" y="367.49" font-family="'Liberation Serif', serif" font-size="8" font-weight="normal" text-anchor="middle" fill="#2a2a2a">§</text>
<text x="73.59" y="367.49" font-family="'Liberation Serif', serif" font-size="8" font-weight="normal" text-anchor="middle" fill="#2a2a2a">§</text>
<text x="82.72" y="367.49" font-family="'Liberation Serif', serif" font-size="8" font-weight="normal" text-anchor="middle" fill="#2a2a2a">§</text>
<text x="100.98" y="367.49" font-family="'Liberation Serif', serif" font-size="8" font-weight="normal" text-anchor="middle" fill="#2a2a2a">§</text>
<text x="119.24" y="371.06" font-family="'Liberation Serif', serif" font-size="8" font-weight="normal" text-anchor="middle" fill="#2a2a2a">§</text>
<text x="174.02" y="361.08" font-family="'Liberation Serif', serif" font-size="8" font-weight="normal" text-anchor="middle" fill="#2a2a2a">§</text>
<text x="18.40" y="357.65" font-family="'Liberation Serif', serif" font-size="8.3" font-weight="normal" text-anchor="middle" fill="#000" transform="rotate(-90 18.40 357.65)">SCFR (REL MFI)</text>
<path d="M46.50,423.50L183.50,423.50L183.50,504.50" stroke="#9a9a9a" stroke-width="1" fill="none"/>
<line x1="46.50" y1="488.50" x2="183.50" y2="488.50" stroke="#9a9a9a" stroke-width="1"/>
<line x1="46.50" y1="471.50" x2="183.50" y2="471.50" stroke="#9a9a9a" stroke-width="1"/>
<line x1="46.50" y1="455.50" x2="183.50" y2="455.50" stroke="#9a9a9a" stroke-width="1"/>
<line x1="46.50" y1="439.50" x2="183.50" y2="439.50" stroke="#9a9a9a" stroke-width="1"/>
<line x1="46.50" y1="423.50" x2="46.50" y2="505.00" stroke="#555" stroke-width="1"/>
<line x1="44.00" y1="504.50" x2="183.50" y2="504.50" stroke="#555" stroke-width="1"/>
<line x1="44.00" y1="504.50" x2="46.50" y2="504.50" stroke="#555" stroke-width="1"/>
<text x="38.80" y="507.60" font-family="'Liberation Serif', serif" font-size="8.6" font-weight="normal" text-anchor="end" fill="#000">0</text>
<line x1="44.00" y1="488.50" x2="46.50" y2="488.50" stroke="#555" stroke-width="1"/>
<text x="38.80" y="491.28" font-family="'Liberation Serif', serif" font-size="8.6" font-weight="normal" text-anchor="end" fill="#000">0.2</text>
<line x1="44.00" y1="471.50" x2="46.50" y2="471.50" stroke="#555" stroke-width="1"/>
<text x="38.80" y="474.96" font-family="'Liberation Serif', serif" font-size="8.6" font-weight="normal" text-anchor="end" fill="#000">0.4</text>
<line x1="44.00" y1="455.50" x2="46.50" y2="455.50" stroke="#555" stroke-width="1"/>
<text x="38.80" y="458.64" font-family="'Liberation Serif', serif" font-size="8.6" font-weight="normal" text-anchor="end" fill="#000">0.6</text>
<line x1="44.00" y1="439.50" x2="46.50" y2="439.50" stroke="#555" stroke-width="1"/>
<text x="38.80" y="442.32" font-family="'Liberation Serif', serif" font-size="8.6" font-weight="normal" text-anchor="end" fill="#000">0.8</text>
<line x1="44.00" y1="423.50" x2="46.50" y2="423.50" stroke="#555" stroke-width="1"/>
<text x="38.80" y="426.00" font-family="'Liberation Serif', serif" font-size="8.6" font-weight="normal" text-anchor="end" fill="#000">1</text>
<line x1="46.50" y1="504.50" x2="46.50" y2="507.00" stroke="#555" stroke-width="1"/>
<text x="46.20" y="519.40" font-family="'Liberation Serif', serif" font-size="8.6" font-weight="normal" text-anchor="middle" fill="#000">0</text>
<line x1="64.50" y1="504.50" x2="64.50" y2="507.00" stroke="#555" stroke-width="1"/>
<text x="64.62" y="519.40" font-family="'Liberation Serif', serif" font-size="8.6" font-weight="normal" text-anchor="middle" fill="#000">2</text>
<line x1="83.50" y1="504.50" x2="83.50" y2="507.00" stroke="#555" stroke-width="1"/>
<text x="83.04" y="519.40" font-family="'Liberation Serif', serif" font-size="8.6" font-weight="normal" text-anchor="middle" fill="#000">4</text>
<line x1="101.50" y1="504.50" x2="101.50" y2="507.00" stroke="#555" stroke-width="1"/>
<text x="101.46" y="519.40" font-family="'Liberation Serif', serif" font-size="8.6" font-weight="normal" text-anchor="middle" fill="#000">6</text>
<line x1="119.50" y1="504.50" x2="119.50" y2="507.00" stroke="#555" stroke-width="1"/>
<text x="119.88" y="519.40" font-family="'Liberation Serif', serif" font-size="8.6" font-weight="normal" text-anchor="middle" fill="#000">8</text>
<line x1="138.50" y1="504.50" x2="138.50" y2="507.00" stroke="#555" stroke-width="1"/>
<text x="138.30" y="519.40" font-family="'Liberation Serif', serif" font-size="8.6" font-weight="normal" text-anchor="middle" fill="#000">10</text>
<line x1="156.50" y1="504.50" x2="156.50" y2="507.00" stroke="#555" stroke-width="1"/>
<text x="156.72" y="519.40" font-family="'Liberation Serif', serif" font-size="8.6" font-weight="normal" text-anchor="middle" fill="#000">12</text>
<line x1="175.50" y1="504.50" x2="175.50" y2="507.00" stroke="#555" stroke-width="1"/>
<text x="175.14" y="519.40" font-family="'Liberation Serif', serif" font-size="8.6" font-weight="normal" text-anchor="middle" fill="#000">14</text>
<path d="M55.50,443.50L55.50,493.50M52.70,443.50L58.30,443.50M52.70,493.50L58.30,493.50" stroke="#000" stroke-width="1.1" fill="none"/>
<path d="M64.50,436.50L64.50,490.50M61.70,436.50L67.30,436.50M61.70,490.50L67.30,490.50" stroke="#000" stroke-width="1.1" fill="none"/>
<path d="M73.50,442.50L73.50,482.50M70.70,442.50L76.30,442.50M70.70,482.50L76.30,482.50" stroke="#000" stroke-width="1.1" fill="none"/>
<path d="M83.50,436.50L83.50,480.50M80.70,436.50L86.30,436.50M80.70,480.50L86.30,480.50" stroke="#000" stroke-width="1.1" fill="none"/>
<path d="M101.50,439.50L101.50,484.50M98.70,439.50L104.30,439.50M98.70,484.50L104.30,484.50" stroke="#000" stroke-width="1.1" fill="none"/>
<path d="M119.50,440.50L119.50,486.50M116.70,440.50L122.30,440.50M116.70,486.50L122.30,486.50" stroke="#000" stroke-width="1.1" fill="none"/>
<path d="M138.50,446.50L138.50,496.50M135.70,446.50L141.30,446.50M135.70,496.50L141.30,496.50" stroke="#000" stroke-width="1.1" fill="none"/>
<path d="M156.50,434.50L156.50,471.50M153.70,434.50L159.30,434.50M153.70,471.50L159.30,471.50" stroke="#000" stroke-width="1.1" fill="none"/>
<path d="M175.50,431.50L175.50,471.50M172.70,431.50L178.30,431.50M172.70,471.50L178.30,471.50" stroke="#000" stroke-width="1.1" fill="none"/>
<polyline points="46.20,423.00 55.41,423.00 64.62,423.00 73.83,423.00 83.04,423.00 101.46,423.00 119.88,423.00 138.30,423.00 156.72,423.00 175.14,423.00" fill="none" stroke="#000" stroke-width="1.2" stroke-linejoin="round"/>
<polyline points="46.20,423.00 55.41,462.17 64.62,444.22 73.83,461.03 83.04,453.19 101.46,457.68 119.88,450.74 138.30,450.74 156.72,442.58 175.14,440.95" fill="none" stroke="#000" stroke-width="1.2" stroke-linejoin="round"/>
<polyline points="46.20,423.00 55.41,482.08 64.62,481.18 73.83,467.88 83.04,472.78 101.46,476.28 119.88,465.43 138.30,476.04 156.72,463.80 175.14,457.27" fill="none" stroke="#000" stroke-width="1.2" stroke-linejoin="round"/>
<polygon points="55.41,420.80 57.61,423.00 55.41,425.20 53.21,423.00" fill="#fff" stroke="#000" stroke-width="1"/>
<polygon points="64.62,420.80 66.82,423.00 64.62,425.20 62.42,423.00" fill="#fff" stroke="#000" stroke-width="1"/>
<polygon points="73.83,420.80 76.03,423.00 73.83,425.20 71.63,423.00" fill="#fff" stroke="#000" stroke-width="1"/>
<polygon points="83.04,420.80 85.24,423.00 83.04,425.20 80.84,423.00" fill="#fff" stroke="#000" stroke-width="1"/>
<polygon points="101.46,420.80 103.66,423.00 101.46,425.20 99.26,423.00" fill="#fff" stroke="#000" stroke-width="1"/>
<polygon points="119.88,420.80 122.08,423.00 119.88,425.20 117.68,423.00" fill="#fff" stroke="#000" stroke-width="1"/>
<polygon points="138.30,420.80 140.50,423.00 138.30,425.20 136.10,423.00" fill="#fff" stroke="#000" stroke-width="1"/>
<polygon points="156.72,420.80 158.92,423.00 156.72,425.20 154.52,423.00" fill="#fff" stroke="#000" stroke-width="1"/>
<polygon points="175.14,420.80 177.34,423.00 175.14,425.20 172.94,423.00" fill="#fff" stroke="#000" stroke-width="1"/>
<polygon points="46.20,419.70 49.50,425.64 42.90,425.64" fill="#000"/>
<polygon points="55.41,458.87 58.71,464.81 52.11,464.81" fill="#000"/>
<polygon points="64.62,440.92 67.92,446.86 61.32,446.86" fill="#000"/>
<polygon points="73.83,457.73 77.13,463.67 70.53,463.67" fill="#000"/>
<polygon points="83.04,449.89 86.34,455.83 79.74,455.83" fill="#000"/>
<polygon points="101.46,454.38 104.76,460.32 98.16,460.32" fill="#000"/>
<polygon points="119.88,447.44 123.18,453.38 116.58,453.38" fill="#000"/>
<polygon points="138.30,447.44 141.60,453.38 135.00,453.38" fill="#000"/>
<polygon points="156.72,439.28 160.02,445.22 153.42,445.22" fill="#000"/>
<polygon points="175.14,437.65 178.44,443.59 171.84,443.59" fill="#000"/>
<rect x="44.20" y="421.00" width="4.00" height="4.00" fill="#000"/>
<rect x="53.41" y="480.08" width="4.00" height="4.00" fill="#000"/>
<rect x="62.62" y="479.18" width="4.00" height="4.00" fill="#000"/>
<rect x="71.83" y="465.88" width="4.00" height="4.00" fill="#000"/>
<rect x="81.04" y="470.78" width="4.00" height="4.00" fill="#000"/>
<rect x="99.46" y="474.28" width="4.00" height="4.00" fill="#000"/>
<rect x="117.88" y="463.43" width="4.00" height="4.00" fill="#000"/>
<rect x="136.30" y="474.04" width="4.00" height="4.00" fill="#000"/>
<rect x="154.72" y="461.80" width="4.00" height="4.00" fill="#000"/>
<rect x="173.14" y="455.27" width="4.00" height="4.00" fill="#000"/>
<path d="M55.41,492.29L55.41,495.69M56.88,493.14L53.94,494.84M56.88,494.84L53.94,493.14" stroke="#6a6a6a" stroke-width="1.3" fill="none"/>
<circle cx="55.41" cy="493.99" r="1.1" fill="#6a6a6a"/>
<path d="M64.62,494.74L64.62,498.14M66.09,495.59L63.15,497.29M66.09,497.29L63.15,495.59" stroke="#6a6a6a" stroke-width="1.3" fill="none"/>
<circle cx="64.62" cy="496.44" r="1.1" fill="#6a6a6a"/>
<path d="M73.83,487.40L73.83,490.80M75.30,488.25L72.36,489.95M75.30,489.95L72.36,488.25" stroke="#6a6a6a" stroke-width="1.3" fill="none"/>
<circle cx="73.83" cy="489.10" r="1.1" fill="#6a6a6a"/>
<path d="M83.04,489.03L83.04,492.43M84.51,489.88L81.57,491.58M84.51,491.58L81.57,489.88" stroke="#6a6a6a" stroke-width="1.3" fill="none"/>
<circle cx="83.04" cy="490.73" r="1.1" fill="#6a6a6a"/>
<path d="M101.46,490.66L101.46,494.06M102.93,491.51L99.99,493.21M102.93,493.21L99.99,491.51" stroke="#6a6a6a" stroke-width="1.3" fill="none"/>
<circle cx="101.46" cy="492.36" r="1.1" fill="#6a6a6a"/>
<path d="M156.72,484.13L156.72,487.53M158.19,484.98L155.25,486.68M158.19,486.68L155.25,484.98" stroke="#6a6a6a" stroke-width="1.3" fill="none"/>
<circle cx="156.72" cy="485.83" r="1.1" fill="#6a6a6a"/>
<text x="64.62" y="431.53" font-family="'Liberation Serif', serif" font-size="8" font-weight="normal" text-anchor="middle" fill="#2a2a2a">§</text>
<text x="119.88" y="434.79" font-family="'Liberation Serif', serif" font-size="8" font-weight="normal" text-anchor="middle" fill="#2a2a2a">§</text>
<text x="138.30" y="442.14" font-family="'Liberation Serif', serif" font-size="8" font-weight="normal" text-anchor="middle" fill="#2a2a2a">§</text>
<text x="19.30" y="463.80" font-family="'Liberation Serif', serif" font-size="8.3" font-weight="normal" text-anchor="middle" fill="#000" transform="rotate(-90 19.30 463.80)">EPOR (REL MFI)</text>
<path d="M52.50,533.50L185.50,533.50L185.50,602.50" stroke="#9a9a9a" stroke-width="1" fill="none"/>
<line x1="52.50" y1="588.50" x2="185.50" y2="588.50" stroke="#9a9a9a" stroke-width="1"/>
<line x1="52.50" y1="574.50" x2="185.50" y2="574.50" stroke="#9a9a9a" stroke-width="1"/>
<line x1="52.50" y1="560.50" x2="185.50" y2="560.50" stroke="#9a9a9a" stroke-width="1"/>
<line x1="52.50" y1="546.50" x2="185.50" y2="546.50" stroke="#9a9a9a" stroke-width="1"/>
<line x1="52.50" y1="533.50" x2="52.50" y2="603.00" stroke="#555" stroke-width="1"/>
<line x1="50.00" y1="602.50" x2="185.50" y2="602.50" stroke="#555" stroke-width="1"/>
<line x1="50.00" y1="602.50" x2="52.50" y2="602.50" stroke="#555" stroke-width="1"/>
<text x="46.00" y="605.30" font-family="'Liberation Serif', serif" font-size="8.6" font-weight="normal" text-anchor="end" fill="#000">0</text>
<line x1="50.00" y1="588.50" x2="52.50" y2="588.50" stroke="#555" stroke-width="1"/>
<text x="46.00" y="591.44" font-family="'Liberation Serif', serif" font-size="8.6" font-weight="normal" text-anchor="end" fill="#000">0.2</text>
<line x1="50.00" y1="574.50" x2="52.50" y2="574.50" stroke="#555" stroke-width="1"/>
<text x="46.00" y="577.58" font-family="'Liberation Serif', serif" font-size="8.6" font-weight="normal" text-anchor="end" fill="#000">0.4</text>
<line x1="50.00" y1="560.50" x2="52.50" y2="560.50" stroke="#555" stroke-width="1"/>
<text x="46.00" y="563.72" font-family="'Liberation Serif', serif" font-size="8.6" font-weight="normal" text-anchor="end" fill="#000">0.6</text>
<line x1="50.00" y1="546.50" x2="52.50" y2="546.50" stroke="#555" stroke-width="1"/>
<text x="46.00" y="549.86" font-family="'Liberation Serif', serif" font-size="8.6" font-weight="normal" text-anchor="end" fill="#000">0.8</text>
<line x1="50.00" y1="533.50" x2="52.50" y2="533.50" stroke="#555" stroke-width="1"/>
<text x="46.00" y="536.00" font-family="'Liberation Serif', serif" font-size="8.6" font-weight="normal" text-anchor="end" fill="#000">1</text>
<line x1="52.50" y1="602.50" x2="52.50" y2="605.00" stroke="#555" stroke-width="1"/>
<text x="52.00" y="617.10" font-family="'Liberation Serif', serif" font-size="8.6" font-weight="normal" text-anchor="middle" fill="#000">0</text>
<line x1="69.50" y1="602.50" x2="69.50" y2="605.00" stroke="#555" stroke-width="1"/>
<text x="69.80" y="617.10" font-family="'Liberation Serif', serif" font-size="8.6" font-weight="normal" text-anchor="middle" fill="#000">2</text>
<line x1="87.50" y1="602.50" x2="87.50" y2="605.00" stroke="#555" stroke-width="1"/>
<text x="87.60" y="617.10" font-family="'Liberation Serif', serif" font-size="8.6" font-weight="normal" text-anchor="middle" fill="#000">4</text>
<line x1="105.50" y1="602.50" x2="105.50" y2="605.00" stroke="#555" stroke-width="1"/>
<text x="105.40" y="617.10" font-family="'Liberation Serif', serif" font-size="8.6" font-weight="normal" text-anchor="middle" fill="#000">6</text>
<line x1="123.50" y1="602.50" x2="123.50" y2="605.00" stroke="#555" stroke-width="1"/>
<text x="123.20" y="617.10" font-family="'Liberation Serif', serif" font-size="8.6" font-weight="normal" text-anchor="middle" fill="#000">8</text>
<line x1="141.50" y1="602.50" x2="141.50" y2="605.00" stroke="#555" stroke-width="1"/>
<text x="141.00" y="617.10" font-family="'Liberation Serif', serif" font-size="8.6" font-weight="normal" text-anchor="middle" fill="#000">10</text>
<line x1="158.50" y1="602.50" x2="158.50" y2="605.00" stroke="#555" stroke-width="1"/>
<text x="158.80" y="617.10" font-family="'Liberation Serif', serif" font-size="8.6" font-weight="normal" text-anchor="middle" fill="#000">12</text>
<line x1="176.50" y1="602.50" x2="176.50" y2="605.00" stroke="#555" stroke-width="1"/>
<text x="176.60" y="617.10" font-family="'Liberation Serif', serif" font-size="8.6" font-weight="normal" text-anchor="middle" fill="#000">14</text>
<path d="M60.50,544.78L60.50,542.50M57.70,542.50L63.30,542.50" stroke="#000" stroke-width="1.1" fill="none"/>
<path d="M60.50,548.94L60.50,552.50M57.70,552.50L63.30,552.50" stroke="#000" stroke-width="1.1" fill="none"/>
<path d="M69.50,543.39L69.50,538.50M66.70,538.50L72.30,538.50" stroke="#000" stroke-width="1.1" fill="none"/>
<path d="M69.50,561.41L69.50,568.50M66.70,568.50L72.30,568.50" stroke="#000" stroke-width="1.1" fill="none"/>
<path d="M78.50,552.40L78.50,545.50M75.70,545.50L81.30,545.50" stroke="#000" stroke-width="1.1" fill="none"/>
<path d="M78.50,564.18L78.50,569.50M75.70,569.50L81.30,569.50" stroke="#000" stroke-width="1.1" fill="none"/>
<path d="M87.50,546.17L87.50,540.50M84.70,540.50L90.30,540.50" stroke="#000" stroke-width="1.1" fill="none"/>
<path d="M87.50,555.87L87.50,562.50M84.70,562.50L90.30,562.50" stroke="#000" stroke-width="1.1" fill="none"/>
<path d="M105.50,544.43L105.50,539.50M102.70,539.50L108.30,539.50" stroke="#000" stroke-width="1.1" fill="none"/>
<path d="M105.50,566.26L105.50,581.50M102.70,581.50L108.30,581.50" stroke="#000" stroke-width="1.1" fill="none"/>
<path d="M123.50,544.78L123.50,542.50M120.70,542.50L126.30,542.50" stroke="#000" stroke-width="1.1" fill="none"/>
<path d="M123.50,553.10L123.50,558.50M120.70,558.50L126.30,558.50" stroke="#000" stroke-width="1.1" fill="none"/>
<path d="M141.50,547.55L141.50,545.50M138.70,545.50L144.30,545.50" stroke="#000" stroke-width="1.1" fill="none"/>
<path d="M141.50,558.64L141.50,560.50M138.70,560.50L144.30,560.50" stroke="#000" stroke-width="1.1" fill="none"/>
<path d="M158.50,542.70L158.50,537.50M155.70,537.50L161.30,537.50" stroke="#000" stroke-width="1.1" fill="none"/>
<path d="M158.50,555.87L158.50,564.50M155.70,564.50L161.30,564.50" stroke="#000" stroke-width="1.1" fill="none"/>
<path d="M176.50,548.94L176.50,539.50M173.70,539.50L179.30,539.50" stroke="#000" stroke-width="1.1" fill="none"/>
<path d="M176.50,559.33L176.50,564.50M173.70,564.50L179.30,564.50" stroke="#000" stroke-width="1.1" fill="none"/>
<polyline points="52.00,533.00 60.90,533.00 69.80,533.00 78.70,533.00 87.60,533.00 105.40,533.00 123.20,533.00 141.00,533.00 158.80,533.00 176.60,533.00" fill="none" stroke="#000" stroke-width="1.2" stroke-linejoin="round"/>
<polyline points="52.00,533.00 60.90,544.78 69.80,543.39 78.70,552.40 87.60,546.17 105.40,544.43 123.20,544.78 141.00,547.55 158.80,542.70 176.60,548.94" fill="none" stroke="#000" stroke-width="1.2" stroke-linejoin="round"/>
<polyline points="52.00,533.00 60.90,548.94 69.80,561.41 78.70,564.18 87.60,555.87 105.40,566.26 123.20,553.10 141.00,558.64 158.80,555.87 176.60,559.33" fill="none" stroke="#000" stroke-width="1.2" stroke-linejoin="round"/>
<polygon points="60.90,530.10 63.80,533.00 60.90,535.90 58.00,533.00" fill="#fff" stroke="#000" stroke-width="1"/>
<polygon points="69.80,530.10 72.70,533.00 69.80,535.90 66.90,533.00" fill="#fff" stroke="#000" stroke-width="1"/>
<polygon points="78.70,530.10 81.60,533.00 78.70,535.90 75.80,533.00" fill="#fff" stroke="#000" stroke-width="1"/>
<polygon points="87.60,530.10 90.50,533.00 87.60,535.90 84.70,533.00" fill="#fff" stroke="#000" stroke-width="1"/>
<polygon points="105.40,530.10 108.30,533.00 105.40,535.90 102.50,533.00" fill="#fff" stroke="#000" stroke-width="1"/>
<polygon points="123.20,530.10 126.10,533.00 123.20,535.90 120.30,533.00" fill="#fff" stroke="#000" stroke-width="1"/>
<polygon points="141.00,530.10 143.90,533.00 141.00,535.90 138.10,533.00" fill="#fff" stroke="#000" stroke-width="1"/>
<polygon points="158.80,530.10 161.70,533.00 158.80,535.90 155.90,533.00" fill="#fff" stroke="#000" stroke-width="1"/>
<polygon points="176.60,530.10 179.50,533.00 176.60,535.90 173.70,533.00" fill="#fff" stroke="#000" stroke-width="1"/>
<polygon points="52.00,529.70 55.30,535.64 48.70,535.64" fill="#000"/>
<polygon points="60.90,541.48 64.20,547.42 57.60,547.42" fill="#000"/>
<polygon points="69.80,540.10 73.10,546.03 66.50,546.03" fill="#000"/>
<polygon points="78.70,549.10 82.00,555.04 75.40,555.04" fill="#000"/>
<polygon points="87.60,542.87 90.90,548.81 84.30,548.81" fill="#000"/>
<polygon points="105.40,541.13 108.70,547.07 102.10,547.07" fill="#000"/>
<polygon points="123.20,541.48 126.50,547.42 119.90,547.42" fill="#000"/>
<polygon points="141.00,544.25 144.30,550.19 137.70,550.19" fill="#000"/>
<polygon points="158.80,539.40 162.10,545.34 155.50,545.34" fill="#000"/>
<polygon points="176.60,545.64 179.90,551.58 173.30,551.58" fill="#000"/>
<rect x="49.20" y="530.20" width="5.60" height="5.60" fill="#000"/>
<rect x="58.10" y="546.14" width="5.60" height="5.60" fill="#000"/>
<rect x="67.00" y="558.61" width="5.60" height="5.60" fill="#000"/>
<rect x="75.90" y="561.38" width="5.60" height="5.60" fill="#000"/>
<rect x="84.80" y="553.07" width="5.60" height="5.60" fill="#000"/>
<rect x="102.60" y="563.46" width="5.60" height="5.60" fill="#000"/>
<rect x="120.40" y="550.30" width="5.60" height="5.60" fill="#000"/>
<rect x="138.20" y="555.84" width="5.60" height="5.60" fill="#000"/>
<rect x="156.00" y="553.07" width="5.60" height="5.60" fill="#000"/>
<rect x="173.80" y="556.53" width="5.60" height="5.60" fill="#000"/>
<path d="M60.90,559.02L60.90,562.42M62.37,559.87L59.43,561.57M62.37,561.57L59.43,559.87" stroke="#6a6a6a" stroke-width="1.3" fill="none"/>
<circle cx="60.90" cy="560.72" r="1.1" fill="#6a6a6a"/>
<path d="M69.80,572.88L69.80,576.28M71.27,573.73L68.33,575.43M71.27,575.43L68.33,573.73" stroke="#6a6a6a" stroke-width="1.3" fill="none"/>
<circle cx="69.80" cy="574.58" r="1.1" fill="#6a6a6a"/>
<path d="M78.70,575.31L78.70,578.71M80.17,576.16L77.23,577.86M80.17,577.86L77.23,576.16" stroke="#6a6a6a" stroke-width="1.3" fill="none"/>
<circle cx="78.70" cy="577.01" r="1.1" fill="#6a6a6a"/>
<path d="M87.60,569.41L87.60,572.82M89.07,570.26L86.13,571.97M89.07,571.97L86.13,570.26" stroke="#6a6a6a" stroke-width="1.3" fill="none"/>
<circle cx="87.60" cy="571.12" r="1.1" fill="#6a6a6a"/>
<path d="M123.20,565.26L123.20,568.66M124.67,566.11L121.73,567.81M124.67,567.81L121.73,566.11" stroke="#6a6a6a" stroke-width="1.3" fill="none"/>
<circle cx="123.20" cy="566.96" r="1.1" fill="#6a6a6a"/>
<path d="M141.00,568.03L141.00,571.43M142.47,568.88L139.53,570.58M142.47,570.58L139.53,568.88" stroke="#6a6a6a" stroke-width="1.3" fill="none"/>
<circle cx="141.00" cy="569.73" r="1.1" fill="#6a6a6a"/>
<text x="60.90" y="576.58" font-family="'Liberation Serif', serif" font-size="8" font-weight="normal" text-anchor="middle" fill="#2a2a2a">§</text>
<text x="69.80" y="590.44" font-family="'Liberation Serif', serif" font-size="8" font-weight="normal" text-anchor="middle" fill="#2a2a2a">§</text>
<text x="87.60" y="585.59" font-family="'Liberation Serif', serif" font-size="8" font-weight="normal" text-anchor="middle" fill="#2a2a2a">§</text>
<text x="123.20" y="582.82" font-family="'Liberation Serif', serif" font-size="8" font-weight="normal" text-anchor="middle" fill="#2a2a2a">§</text>
<text x="141.00" y="584.20" font-family="'Liberation Serif', serif" font-size="8" font-weight="normal" text-anchor="middle" fill="#2a2a2a">§</text>
<text x="21.30" y="574.00" font-family="'Liberation Serif', serif" font-size="8.3" font-weight="normal" text-anchor="middle" fill="#000" transform="rotate(-90 21.30 574.00)" textLength="60.5" lengthAdjust="spacingAndGlyphs">IL3R (REL MFI)</text>
<text x="118.90" y="631.00" font-family="'Liberation Serif', serif" font-size="8.5" font-weight="normal" text-anchor="middle" fill="#000">TIME (DAYS)</text>
<path d="M234.50,214.50L376.50,214.50L376.50,284.50" stroke="#9a9a9a" stroke-width="1" fill="none"/>
<line x1="234.50" y1="275.50" x2="376.50" y2="275.50" stroke="#b4b4b4" stroke-width="1"/>
<line x1="234.50" y1="267.50" x2="376.50" y2="267.50" stroke="#b4b4b4" stroke-width="1"/>
<line x1="234.50" y1="258.50" x2="376.50" y2="258.50" stroke="#b4b4b4" stroke-width="1"/>
<line x1="234.50" y1="249.50" x2="376.50" y2="249.50" stroke="#b4b4b4" stroke-width="1"/>
<line x1="234.50" y1="240.50" x2="376.50" y2="240.50" stroke="#b4b4b4" stroke-width="1"/>
<line x1="234.50" y1="232.50" x2="376.50" y2="232.50" stroke="#b4b4b4" stroke-width="1"/>
<line x1="234.50" y1="223.50" x2="376.50" y2="223.50" stroke="#b4b4b4" stroke-width="1"/>
<line x1="234.50" y1="214.50" x2="234.50" y2="285.00" stroke="#555" stroke-width="1"/>
<line x1="232.00" y1="284.50" x2="376.50" y2="284.50" stroke="#555" stroke-width="1"/>
<line x1="232.00" y1="284.50" x2="234.50" y2="284.50" stroke="#555" stroke-width="1"/>
<text x="227.60" y="287.30" font-family="'Liberation Serif', serif" font-size="8.6" font-weight="normal" text-anchor="end" fill="#000">0</text>
<line x1="232.00" y1="275.50" x2="234.50" y2="275.50" stroke="#555" stroke-width="1"/>
<text x="227.60" y="278.57" font-family="'Liberation Serif', serif" font-size="8.6" font-weight="normal" text-anchor="end" fill="#000">0.2</text>
<line x1="232.00" y1="267.50" x2="234.50" y2="267.50" stroke="#555" stroke-width="1"/>
<text x="227.60" y="269.85" font-family="'Liberation Serif', serif" font-size="8.6" font-weight="normal" text-anchor="end" fill="#000">0.4</text>
<line x1="232.00" y1="258.50" x2="234.50" y2="258.50" stroke="#555" stroke-width="1"/>
<text x="227.60" y="261.12" font-family="'Liberation Serif', serif" font-size="8.6" font-weight="normal" text-anchor="end" fill="#000">0.6</text>
<line x1="232.00" y1="249.50" x2="234.50" y2="249.50" stroke="#555" stroke-width="1"/>
<text x="227.60" y="252.40" font-family="'Liberation Serif', serif" font-size="8.6" font-weight="normal" text-anchor="end" fill="#000">0.8</text>
<line x1="232.00" y1="240.50" x2="234.50" y2="240.50" stroke="#555" stroke-width="1"/>
<text x="227.60" y="243.68" font-family="'Liberation Serif', serif" font-size="8.6" font-weight="normal" text-anchor="end" fill="#000">1</text>
<line x1="232.00" y1="232.50" x2="234.50" y2="232.50" stroke="#555" stroke-width="1"/>
<text x="227.60" y="234.95" font-family="'Liberation Serif', serif" font-size="8.6" font-weight="normal" text-anchor="end" fill="#000">1.2</text>
<line x1="232.00" y1="223.50" x2="234.50" y2="223.50" stroke="#555" stroke-width="1"/>
<text x="227.60" y="226.23" font-family="'Liberation Serif', serif" font-size="8.6" font-weight="normal" text-anchor="end" fill="#000">1.4</text>
<line x1="232.00" y1="214.50" x2="234.50" y2="214.50" stroke="#555" stroke-width="1"/>
<text x="227.60" y="217.50" font-family="'Liberation Serif', serif" font-size="8.6" font-weight="normal" text-anchor="end" fill="#000">1.6</text>
<line x1="234.50" y1="284.50" x2="234.50" y2="287.00" stroke="#555" stroke-width="1"/>
<text x="234.00" y="298.80" font-family="'Liberation Serif', serif" font-size="8.6" font-weight="normal" text-anchor="middle" fill="#000">0</text>
<line x1="262.50" y1="284.50" x2="262.50" y2="287.00" stroke="#555" stroke-width="1"/>
<text x="262.50" y="298.80" font-family="'Liberation Serif', serif" font-size="8.6" font-weight="normal" text-anchor="middle" fill="#000">1</text>
<line x1="291.50" y1="284.50" x2="291.50" y2="287.00" stroke="#555" stroke-width="1"/>
<text x="291.00" y="298.80" font-family="'Liberation Serif', serif" font-size="8.6" font-weight="normal" text-anchor="middle" fill="#000">2</text>
<line x1="319.50" y1="284.50" x2="319.50" y2="287.00" stroke="#555" stroke-width="1"/>
<text x="319.50" y="298.80" font-family="'Liberation Serif', serif" font-size="8.6" font-weight="normal" text-anchor="middle" fill="#000">3</text>
<line x1="348.50" y1="284.50" x2="348.50" y2="287.00" stroke="#555" stroke-width="1"/>
<text x="348.00" y="298.80" font-family="'Liberation Serif', serif" font-size="8.6" font-weight="normal" text-anchor="middle" fill="#000">4</text>
<line x1="376.50" y1="284.50" x2="376.50" y2="287.00" stroke="#555" stroke-width="1"/>
<text x="376.50" y="298.80" font-family="'Liberation Serif', serif" font-size="8.6" font-weight="normal" text-anchor="middle" fill="#000">5</text>
<path d="M262.50,217.50L262.50,242.50M259.70,217.50L265.30,217.50M259.70,242.50L265.30,242.50" stroke="#555" stroke-width="1.1" fill="none"/>
<path d="M291.50,234.50L291.50,238.50M288.70,234.50L294.30,234.50M288.70,238.50L294.30,238.50" stroke="#555" stroke-width="1.1" fill="none"/>
<path d="M319.50,221.50L319.50,242.50M316.70,221.50L322.30,221.50M316.70,242.50L322.30,242.50" stroke="#555" stroke-width="1.1" fill="none"/>
<path d="M348.50,232.50L348.50,235.50M345.70,232.50L351.30,232.50M345.70,235.50L351.30,235.50" stroke="#555" stroke-width="1.1" fill="none"/>
<polyline points="234.00,240.88 262.50,250.91 291.00,250.47 319.50,250.47 348.00,251.34" fill="none" stroke="#000" stroke-width="1.3" stroke-linejoin="round"/>
<polyline points="234.00,240.88 262.50,240.88 291.00,240.88 319.50,240.88 348.00,240.88" fill="none" stroke="#000" stroke-width="1.0" stroke-linejoin="round"/>
<polyline points="234.00,240.88 262.50,229.97 291.00,236.51 319.50,232.15 348.00,233.46" fill="none" stroke="#000" stroke-width="1.2" stroke-linejoin="round"/>
<rect x="260.10" y="248.51" width="4.80" height="4.80" fill="#000"/>
<rect x="288.60" y="248.07" width="4.80" height="4.80" fill="#000"/>
<rect x="317.10" y="248.07" width="4.80" height="4.80" fill="#000"/>
<rect x="345.60" y="248.94" width="4.80" height="4.80" fill="#000"/>
<path d="M231.40,238.28L236.60,243.47M236.60,238.28L231.40,243.47" stroke="#000" stroke-width="1.2" fill="none"/>
<path d="M259.90,238.28L265.10,243.47M265.10,238.28L259.90,243.47" stroke="#000" stroke-width="1.2" fill="none"/>
<path d="M288.40,238.28L293.60,243.47M293.60,238.28L288.40,243.47" stroke="#000" stroke-width="1.2" fill="none"/>
<path d="M316.90,238.28L322.10,243.47M322.10,238.28L316.90,243.47" stroke="#000" stroke-width="1.2" fill="none"/>
<path d="M345.40,238.28L350.60,243.47M350.60,238.28L345.40,243.47" stroke="#000" stroke-width="1.2" fill="none"/>
<path d="M231.40,238.28L236.60,243.47M236.60,238.28L231.40,243.47M231.40,238.28L236.60,238.28M231.40,243.47L236.60,243.47" stroke="#000" stroke-width="1.3" fill="none"/>
<path d="M259.90,227.37L265.10,232.57M265.10,227.37L259.90,232.57M259.90,227.37L265.10,227.37M259.90,232.57L265.10,232.57" stroke="#000" stroke-width="1.3" fill="none"/>
<path d="M288.40,233.91L293.60,239.11M293.60,233.91L288.40,239.11M288.40,233.91L293.60,233.91M288.40,239.11L293.60,239.11" stroke="#000" stroke-width="1.3" fill="none"/>
<path d="M316.90,229.55L322.10,234.75M322.10,229.55L316.90,234.75M316.90,229.55L322.10,229.55M316.90,234.75L322.10,234.75" stroke="#000" stroke-width="1.3" fill="none"/>
<path d="M345.40,230.86L350.60,236.06M350.60,230.86L345.40,236.06M345.40,230.86L350.60,230.86M345.40,236.06L350.60,236.06" stroke="#000" stroke-width="1.3" fill="none"/>
<path d="M262.50,268.84L262.50,272.24M263.97,269.69L261.03,271.39M263.97,271.39L261.03,269.69" stroke="#6a6a6a" stroke-width="1.3" fill="none"/>
<circle cx="262.50" cy="270.54" r="1.1" fill="#6a6a6a"/>
<path d="M291.00,268.84L291.00,272.24M292.47,269.69L289.53,271.39M292.47,271.39L289.53,269.69" stroke="#6a6a6a" stroke-width="1.3" fill="none"/>
<circle cx="291.00" cy="270.54" r="1.1" fill="#6a6a6a"/>
<path d="M319.50,258.81L319.50,262.21M320.97,259.66L318.03,261.36M320.97,261.36L318.03,259.66" stroke="#6a6a6a" stroke-width="1.3" fill="none"/>
<circle cx="319.50" cy="260.51" r="1.1" fill="#6a6a6a"/>
<path d="M348.00,266.66L348.00,270.06M349.47,267.51L346.53,269.21M349.47,269.21L346.53,267.51" stroke="#6a6a6a" stroke-width="1.3" fill="none"/>
<circle cx="348.00" cy="268.36" r="1.1" fill="#6a6a6a"/>
<text x="207.00" y="252.50" font-family="'Liberation Serif', serif" font-size="8.3" font-weight="normal" text-anchor="middle" fill="#000" transform="rotate(-90 207.00 252.50)" textLength="60.5" lengthAdjust="spacingAndGlyphs">TfR1  (REL MFI)</text>
<line x1="203.00" y1="200.30" x2="209.00" y2="200.30" stroke="#000" stroke-width="1.1"/>
<line x1="215.50" y1="200.30" x2="222.50" y2="200.30" stroke="#000" stroke-width="1.1"/>
<path d="M209.90,198.00L214.50,202.60M214.50,198.00L209.90,202.60" stroke="#000" stroke-width="1.2" fill="none"/>
<text x="225.60" y="203.30" font-family="'Liberation Serif', serif" font-size="8.6" font-weight="normal" text-anchor="start" fill="#000">Mo</text>
<line x1="250.60" y1="200.30" x2="257.00" y2="200.30" stroke="#000" stroke-width="1.1"/>
<line x1="262.00" y1="200.30" x2="269.50" y2="200.30" stroke="#000" stroke-width="1.1"/>
<rect x="257.00" y="197.90" width="4.80" height="4.80" fill="#000"/>
<text x="273.00" y="203.30" font-family="'Liberation Serif', serif" font-size="9.0" font-weight="normal" text-anchor="start" fill="#000" textLength="31.5" lengthAdjust="spacingAndGlyphs">Mo+HZ</text>
<line x1="315.80" y1="200.30" x2="322.50" y2="200.30" stroke="#000" stroke-width="1.1"/>
<line x1="329.50" y1="200.30" x2="336.50" y2="200.30" stroke="#000" stroke-width="1.1"/>
<path d="M323.60,197.80L328.60,202.80M328.60,197.80L323.60,202.80M323.60,197.80L328.60,197.80M323.60,202.80L328.60,202.80" stroke="#000" stroke-width="1.3" fill="none"/>
<text x="339.80" y="203.30" font-family="'Liberation Serif', serif" font-size="9.0" font-weight="normal" text-anchor="start" fill="#000" textLength="36.5" lengthAdjust="spacingAndGlyphs">Mo+RBC</text>
<path d="M236.50,319.50L380.50,319.50L380.50,389.50" stroke="#9a9a9a" stroke-width="1" fill="none"/>
<line x1="236.50" y1="381.50" x2="380.50" y2="381.50" stroke="#b4b4b4" stroke-width="1"/>
<line x1="236.50" y1="372.50" x2="380.50" y2="372.50" stroke="#b4b4b4" stroke-width="1"/>
<line x1="236.50" y1="363.50" x2="380.50" y2="363.50" stroke="#b4b4b4" stroke-width="1"/>
<line x1="236.50" y1="354.50" x2="380.50" y2="354.50" stroke="#b4b4b4" stroke-width="1"/>
<line x1="236.50" y1="346.50" x2="380.50" y2="346.50" stroke="#b4b4b4" stroke-width="1"/>
<line x1="236.50" y1="337.50" x2="380.50" y2="337.50" stroke="#b4b4b4" stroke-width="1"/>
<line x1="236.50" y1="328.50" x2="380.50" y2="328.50" stroke="#b4b4b4" stroke-width="1"/>
<line x1="236.50" y1="319.50" x2="236.50" y2="390.00" stroke="#555" stroke-width="1"/>
<line x1="234.00" y1="389.50" x2="380.50" y2="389.50" stroke="#555" stroke-width="1"/>
<line x1="234.00" y1="389.50" x2="236.50" y2="389.50" stroke="#555" stroke-width="1"/>
<text x="230.60" y="392.70" font-family="'Liberation Serif', serif" font-size="8.6" font-weight="normal" text-anchor="end" fill="#000">0</text>
<line x1="234.00" y1="381.50" x2="236.50" y2="381.50" stroke="#555" stroke-width="1"/>
<text x="230.60" y="383.93" font-family="'Liberation Serif', serif" font-size="8.6" font-weight="normal" text-anchor="end" fill="#000">0.2</text>
<line x1="234.00" y1="372.50" x2="236.50" y2="372.50" stroke="#555" stroke-width="1"/>
<text x="230.60" y="375.15" font-family="'Liberation Serif', serif" font-size="8.6" font-weight="normal" text-anchor="end" fill="#000">0.4</text>
<line x1="234.00" y1="363.50" x2="236.50" y2="363.50" stroke="#555" stroke-width="1"/>
<text x="230.60" y="366.38" font-family="'Liberation Serif', serif" font-size="8.6" font-weight="normal" text-anchor="end" fill="#000">0.6</text>
<line x1="234.00" y1="354.50" x2="236.50" y2="354.50" stroke="#555" stroke-width="1"/>
<text x="230.60" y="357.60" font-family="'Liberation Serif', serif" font-size="8.6" font-weight="normal" text-anchor="end" fill="#000">0.8</text>
<line x1="234.00" y1="346.50" x2="236.50" y2="346.50" stroke="#555" stroke-width="1"/>
<text x="230.60" y="348.82" font-family="'Liberation Serif', serif" font-size="8.6" font-weight="normal" text-anchor="end" fill="#000">1</text>
<line x1="234.00" y1="337.50" x2="236.50" y2="337.50" stroke="#555" stroke-width="1"/>
<text x="230.60" y="340.05" font-family="'Liberation Serif', serif" font-size="8.6" font-weight="normal" text-anchor="end" fill="#000">1.2</text>
<line x1="234.00" y1="328.50" x2="236.50" y2="328.50" stroke="#555" stroke-width="1"/>
<text x="230.60" y="331.28" font-family="'Liberation Serif', serif" font-size="8.6" font-weight="normal" text-anchor="end" fill="#000">1.4</text>
<line x1="234.00" y1="319.50" x2="236.50" y2="319.50" stroke="#555" stroke-width="1"/>
<text x="230.60" y="322.50" font-family="'Liberation Serif', serif" font-size="8.6" font-weight="normal" text-anchor="end" fill="#000">1.6</text>
<line x1="236.50" y1="389.50" x2="236.50" y2="392.00" stroke="#555" stroke-width="1"/>
<text x="236.00" y="404.20" font-family="'Liberation Serif', serif" font-size="8.6" font-weight="normal" text-anchor="middle" fill="#000">0</text>
<line x1="264.50" y1="389.50" x2="264.50" y2="392.00" stroke="#555" stroke-width="1"/>
<text x="264.90" y="404.20" font-family="'Liberation Serif', serif" font-size="8.6" font-weight="normal" text-anchor="middle" fill="#000">1</text>
<line x1="293.50" y1="389.50" x2="293.50" y2="392.00" stroke="#555" stroke-width="1"/>
<text x="293.80" y="404.20" font-family="'Liberation Serif', serif" font-size="8.6" font-weight="normal" text-anchor="middle" fill="#000">2</text>
<line x1="322.50" y1="389.50" x2="322.50" y2="392.00" stroke="#555" stroke-width="1"/>
<text x="322.70" y="404.20" font-family="'Liberation Serif', serif" font-size="8.6" font-weight="normal" text-anchor="middle" fill="#000">3</text>
<line x1="351.50" y1="389.50" x2="351.50" y2="392.00" stroke="#555" stroke-width="1"/>
<text x="351.60" y="404.20" font-family="'Liberation Serif', serif" font-size="8.6" font-weight="normal" text-anchor="middle" fill="#000">4</text>
<line x1="380.50" y1="389.50" x2="380.50" y2="392.00" stroke="#555" stroke-width="1"/>
<text x="380.50" y="404.20" font-family="'Liberation Serif', serif" font-size="8.6" font-weight="normal" text-anchor="middle" fill="#000">5</text>
<path d="M264.50,326.50L264.50,339.50M261.70,326.50L267.30,326.50M261.70,339.50L267.30,339.50" stroke="#555" stroke-width="1.1" fill="none"/>
<path d="M322.50,328.50L322.50,343.50M319.70,328.50L325.30,328.50M319.70,343.50L325.30,343.50" stroke="#555" stroke-width="1.1" fill="none"/>
<path d="M293.50,347.50L293.50,351.50M290.70,347.50L296.30,347.50M290.70,351.50L296.30,351.50" stroke="#555" stroke-width="1.1" fill="none"/>
<path d="M264.50,349.50L264.50,353.50M261.70,349.50L267.30,349.50M261.70,353.50L267.30,353.50" stroke="#555" stroke-width="1.1" fill="none"/>
<path d="M322.50,350.50L322.50,357.50M319.70,350.50L325.30,350.50M319.70,357.50L325.30,357.50" stroke="#555" stroke-width="1.1" fill="none"/>
<path d="M351.50,355.50L351.50,358.50M348.70,355.50L354.30,355.50M348.70,358.50L354.30,358.50" stroke="#555" stroke-width="1.1" fill="none"/>
<polyline points="236.00,346.02 264.90,350.85 293.80,349.10 322.70,353.48 351.60,356.99" fill="none" stroke="#000" stroke-width="1.3" stroke-linejoin="round"/>
<polyline points="236.00,346.02 264.90,346.02 293.80,346.02 322.70,346.02 351.60,346.02" fill="none" stroke="#000" stroke-width="1.0" stroke-linejoin="round"/>
<polyline points="236.00,346.02 264.90,332.86 293.80,337.69 322.70,335.93 351.60,340.76" fill="none" stroke="#000" stroke-width="1.2" stroke-linejoin="round"/>
<circle cx="264.90" cy="350.85" r="2.6" fill="#000"/>
<circle cx="293.80" cy="349.10" r="2.6" fill="#000"/>
<circle cx="322.70" cy="353.48" r="2.6" fill="#000"/>
<rect x="349.20" y="354.59" width="4.80" height="4.80" fill="#000"/>
<path d="M233.40,343.42L238.60,348.62M238.60,343.42L233.40,348.62" stroke="#000" stroke-width="1.2" fill="none"/>
<path d="M262.30,343.42L267.50,348.62M267.50,343.42L262.30,348.62" stroke="#000" stroke-width="1.2" fill="none"/>
<path d="M291.20,343.42L296.40,348.62M296.40,343.42L291.20,348.62" stroke="#000" stroke-width="1.2" fill="none"/>
<path d="M320.10,343.42L325.30,348.62M325.30,343.42L320.10,348.62" stroke="#000" stroke-width="1.2" fill="none"/>
<path d="M349.00,343.42L354.20,348.62M354.20,343.42L349.00,348.62" stroke="#000" stroke-width="1.2" fill="none"/>
<path d="M233.40,343.42L238.60,348.62M238.60,343.42L233.40,348.62M233.40,343.42L238.60,343.42M233.40,348.62L238.60,348.62" stroke="#000" stroke-width="1.3" fill="none"/>
<path d="M262.30,330.26L267.50,335.46M267.50,330.26L262.30,335.46M262.30,330.26L267.50,330.26M262.30,335.46L267.50,335.46" stroke="#000" stroke-width="1.3" fill="none"/>
<path d="M291.20,335.09L296.40,340.29M296.40,335.09L291.20,340.29M291.20,335.09L296.40,335.09M291.20,340.29L296.40,340.29" stroke="#000" stroke-width="1.3" fill="none"/>
<path d="M320.10,333.33L325.30,338.53M325.30,333.33L320.10,338.53M320.10,333.33L325.30,333.33M320.10,338.53L325.30,338.53" stroke="#000" stroke-width="1.3" fill="none"/>
<path d="M349.00,338.16L354.20,343.36M354.20,338.16L349.00,343.36M349.00,338.16L354.20,338.16M349.00,343.36L354.20,343.36" stroke="#000" stroke-width="1.3" fill="none"/>
<path d="M351.60,363.19L351.60,366.59M353.07,364.04L350.13,365.74M353.07,365.74L350.13,364.04" stroke="#6a6a6a" stroke-width="1.3" fill="none"/>
<circle cx="351.60" cy="364.89" r="1.1" fill="#6a6a6a"/>
<text x="293.80" y="371.28" font-family="'Liberation Serif', serif" font-size="8" font-weight="normal" text-anchor="middle" fill="#2a2a2a">§</text>
<text x="351.60" y="380.05" font-family="'Liberation Serif', serif" font-size="8" font-weight="normal" text-anchor="middle" fill="#2a2a2a">§</text>
<text x="209.00" y="359.00" font-family="'Liberation Serif', serif" font-size="8.3" font-weight="normal" text-anchor="middle" fill="#000" transform="rotate(-90 209.00 359.00)" textLength="61" lengthAdjust="spacingAndGlyphs">SCFR (REL MFI)</text>
<path d="M238.50,418.50L380.50,418.50L380.50,500.50" stroke="#9a9a9a" stroke-width="1" fill="none"/>
<line x1="238.50" y1="490.50" x2="380.50" y2="490.50" stroke="#b4b4b4" stroke-width="1"/>
<line x1="238.50" y1="480.50" x2="380.50" y2="480.50" stroke="#b4b4b4" stroke-width="1"/>
<line x1="238.50" y1="469.50" x2="380.50" y2="469.50" stroke="#b4b4b4" stroke-width="1"/>
<line x1="238.50" y1="459.50" x2="380.50" y2="459.50" stroke="#b4b4b4" stroke-width="1"/>
<line x1="238.50" y1="449.50" x2="380.50" y2="449.50" stroke="#b4b4b4" stroke-width="1"/>
<line x1="238.50" y1="439.50" x2="380.50" y2="439.50" stroke="#b4b4b4" stroke-width="1"/>
<line x1="238.50" y1="429.50" x2="380.50" y2="429.50" stroke="#b4b4b4" stroke-width="1"/>
<line x1="238.50" y1="418.50" x2="381.00" y2="418.50" stroke="#555" stroke-width="1.3"/>
<line x1="238.50" y1="418.50" x2="238.50" y2="501.00" stroke="#555" stroke-width="1"/>
<line x1="236.00" y1="500.50" x2="380.50" y2="500.50" stroke="#555" stroke-width="1"/>
<line x1="236.00" y1="500.50" x2="238.50" y2="500.50" stroke="#555" stroke-width="1"/>
<text x="233.00" y="503.30" font-family="'Liberation Serif', serif" font-size="8.6" font-weight="normal" text-anchor="end" fill="#000">0</text>
<line x1="236.00" y1="490.50" x2="238.50" y2="490.50" stroke="#555" stroke-width="1"/>
<text x="233.00" y="493.10" font-family="'Liberation Serif', serif" font-size="8.6" font-weight="normal" text-anchor="end" fill="#000">0.2</text>
<line x1="236.00" y1="480.50" x2="238.50" y2="480.50" stroke="#555" stroke-width="1"/>
<text x="233.00" y="482.90" font-family="'Liberation Serif', serif" font-size="8.6" font-weight="normal" text-anchor="end" fill="#000">0.4</text>
<line x1="236.00" y1="469.50" x2="238.50" y2="469.50" stroke="#555" stroke-width="1"/>
<text x="233.00" y="472.70" font-family="'Liberation Serif', serif" font-size="8.6" font-weight="normal" text-anchor="end" fill="#000">0.6</text>
<line x1="236.00" y1="459.50" x2="238.50" y2="459.50" stroke="#555" stroke-width="1"/>
<text x="233.00" y="462.50" font-family="'Liberation Serif', serif" font-size="8.6" font-weight="normal" text-anchor="end" fill="#000">0.8</text>
<line x1="236.00" y1="449.50" x2="238.50" y2="449.50" stroke="#555" stroke-width="1"/>
<text x="233.00" y="452.30" font-family="'Liberation Serif', serif" font-size="8.6" font-weight="normal" text-anchor="end" fill="#000">1</text>
<line x1="236.00" y1="439.50" x2="238.50" y2="439.50" stroke="#555" stroke-width="1"/>
<text x="233.00" y="442.10" font-family="'Liberation Serif', serif" font-size="8.6" font-weight="normal" text-anchor="end" fill="#000">1.2</text>
<line x1="236.00" y1="429.50" x2="238.50" y2="429.50" stroke="#555" stroke-width="1"/>
<text x="233.00" y="431.90" font-family="'Liberation Serif', serif" font-size="8.6" font-weight="normal" text-anchor="end" fill="#000">1.4</text>
<line x1="236.00" y1="418.50" x2="238.50" y2="418.50" stroke="#555" stroke-width="1"/>
<text x="233.00" y="421.70" font-family="'Liberation Serif', serif" font-size="8.6" font-weight="normal" text-anchor="end" fill="#000">1.6</text>
<line x1="238.50" y1="500.50" x2="238.50" y2="503.00" stroke="#555" stroke-width="1"/>
<text x="238.00" y="514.80" font-family="'Liberation Serif', serif" font-size="8.6" font-weight="normal" text-anchor="middle" fill="#000">0</text>
<line x1="266.50" y1="500.50" x2="266.50" y2="503.00" stroke="#555" stroke-width="1"/>
<text x="266.50" y="514.80" font-family="'Liberation Serif', serif" font-size="8.6" font-weight="normal" text-anchor="middle" fill="#000">1</text>
<line x1="295.50" y1="500.50" x2="295.50" y2="503.00" stroke="#555" stroke-width="1"/>
<text x="295.00" y="514.80" font-family="'Liberation Serif', serif" font-size="8.6" font-weight="normal" text-anchor="middle" fill="#000">2</text>
<line x1="323.50" y1="500.50" x2="323.50" y2="503.00" stroke="#555" stroke-width="1"/>
<text x="323.50" y="514.80" font-family="'Liberation Serif', serif" font-size="8.6" font-weight="normal" text-anchor="middle" fill="#000">3</text>
<line x1="352.50" y1="500.50" x2="352.50" y2="503.00" stroke="#555" stroke-width="1"/>
<text x="352.00" y="514.80" font-family="'Liberation Serif', serif" font-size="8.6" font-weight="normal" text-anchor="middle" fill="#000">4</text>
<line x1="380.50" y1="500.50" x2="380.50" y2="503.00" stroke="#555" stroke-width="1"/>
<text x="380.50" y="514.80" font-family="'Liberation Serif', serif" font-size="8.6" font-weight="normal" text-anchor="middle" fill="#000">5</text>
<path d="M295.50,444.50L295.50,448.50M292.70,444.50L298.30,444.50M292.70,448.50L298.30,448.50" stroke="#555" stroke-width="1.1" fill="none"/>
<path d="M323.50,430.50L323.50,449.50M320.70,430.50L326.30,430.50M320.70,449.50L326.30,449.50" stroke="#555" stroke-width="1.1" fill="none"/>
<path d="M352.50,439.50L352.50,449.50M349.70,439.50L355.30,439.50M349.70,449.50L355.30,449.50" stroke="#555" stroke-width="1.1" fill="none"/>
<path d="M266.50,457.50L266.50,463.50M263.70,457.50L269.30,457.50M263.70,463.50L269.30,463.50" stroke="#555" stroke-width="1.1" fill="none"/>
<path d="M352.50,458.50L352.50,464.50M349.70,458.50L355.30,458.50M349.70,464.50L355.30,464.50" stroke="#555" stroke-width="1.1" fill="none"/>
<polyline points="238.00,449.50 266.50,459.95 295.00,461.23 323.50,458.17 352.00,461.74" fill="none" stroke="#000" stroke-width="1.3" stroke-linejoin="round"/>
<polyline points="238.00,449.50 266.50,449.50 295.00,449.50 323.50,449.50 352.00,449.50" fill="none" stroke="#000" stroke-width="1.0" stroke-linejoin="round"/>
<polyline points="238.00,449.50 266.50,441.08 295.00,446.44 323.50,439.30 352.00,444.91" fill="none" stroke="#000" stroke-width="1.2" stroke-linejoin="round"/>
<rect x="264.10" y="457.56" width="4.80" height="4.80" fill="#000"/>
<rect x="292.60" y="458.83" width="4.80" height="4.80" fill="#000"/>
<rect x="321.10" y="455.77" width="4.80" height="4.80" fill="#000"/>
<rect x="349.60" y="459.34" width="4.80" height="4.80" fill="#000"/>
<path d="M235.40,446.90L240.60,452.10M240.60,446.90L235.40,452.10" stroke="#000" stroke-width="1.2" fill="none"/>
<path d="M263.90,446.90L269.10,452.10M269.10,446.90L263.90,452.10" stroke="#000" stroke-width="1.2" fill="none"/>
<path d="M292.40,446.90L297.60,452.10M297.60,446.90L292.40,452.10" stroke="#000" stroke-width="1.2" fill="none"/>
<path d="M320.90,446.90L326.10,452.10M326.10,446.90L320.90,452.10" stroke="#000" stroke-width="1.2" fill="none"/>
<path d="M349.40,446.90L354.60,452.10M354.60,446.90L349.40,452.10" stroke="#000" stroke-width="1.2" fill="none"/>
<path d="M235.40,446.90L240.60,452.10M240.60,446.90L235.40,452.10M235.40,446.90L240.60,446.90M235.40,452.10L240.60,452.10" stroke="#000" stroke-width="1.3" fill="none"/>
<path d="M263.90,438.48L269.10,443.69M269.10,438.48L263.90,443.69M263.90,438.48L269.10,438.48M263.90,443.69L269.10,443.69" stroke="#000" stroke-width="1.3" fill="none"/>
<path d="M292.40,443.84L297.60,449.04M297.60,443.84L292.40,449.04M292.40,443.84L297.60,443.84M292.40,449.04L297.60,449.04" stroke="#000" stroke-width="1.3" fill="none"/>
<path d="M320.90,436.70L326.10,441.90M326.10,436.70L320.90,441.90M320.90,436.70L326.10,436.70M320.90,441.90L326.10,441.90" stroke="#000" stroke-width="1.3" fill="none"/>
<path d="M349.40,442.31L354.60,447.51M354.60,442.31L349.40,447.51M349.40,442.31L354.60,442.31M349.40,447.51L354.60,447.51" stroke="#000" stroke-width="1.3" fill="none"/>
<path d="M299.56,466.67L299.56,470.07M301.03,467.52L298.09,469.22M301.03,469.22L298.09,467.52" stroke="#6a6a6a" stroke-width="1.3" fill="none"/>
<circle cx="299.56" cy="468.37" r="1.1" fill="#6a6a6a"/>
<path d="M327.20,464.12L327.20,467.52M328.68,464.97L325.73,466.67M328.68,466.67L325.73,464.97" stroke="#6a6a6a" stroke-width="1.3" fill="none"/>
<circle cx="327.20" cy="465.82" r="1.1" fill="#6a6a6a"/>
<path d="M352.00,472.28L352.00,475.68M353.47,473.13L350.53,474.83M353.47,474.83L350.53,473.13" stroke="#6a6a6a" stroke-width="1.3" fill="none"/>
<circle cx="352.00" cy="473.98" r="1.1" fill="#6a6a6a"/>
<text x="266.50" y="485.67" font-family="'Liberation Serif', serif" font-size="8" font-weight="normal" text-anchor="middle" fill="#2a2a2a">§</text>
<text x="300.13" y="484.14" font-family="'Liberation Serif', serif" font-size="8" font-weight="normal" text-anchor="middle" fill="#2a2a2a">§</text>
<text x="352.00" y="488.22" font-family="'Liberation Serif', serif" font-size="8" font-weight="normal" text-anchor="middle" fill="#2a2a2a">§</text>
<text x="210.70" y="460.50" font-family="'Liberation Serif', serif" font-size="8.3" font-weight="normal" text-anchor="middle" fill="#000" transform="rotate(-90 210.70 460.50)" textLength="63" lengthAdjust="spacingAndGlyphs">EPOR (REL MFI)</text>
<path d="M239.50,535.50L383.50,535.50L383.50,602.50" stroke="#9a9a9a" stroke-width="1" fill="none"/>
<line x1="239.50" y1="594.50" x2="383.50" y2="594.50" stroke="#b4b4b4" stroke-width="1"/>
<line x1="239.50" y1="585.50" x2="383.50" y2="585.50" stroke="#b4b4b4" stroke-width="1"/>
<line x1="239.50" y1="577.50" x2="383.50" y2="577.50" stroke="#b4b4b4" stroke-width="1"/>
<line x1="239.50" y1="568.50" x2="383.50" y2="568.50" stroke="#b4b4b4" stroke-width="1"/>
<line x1="239.50" y1="560.50" x2="383.50" y2="560.50" stroke="#b4b4b4" stroke-width="1"/>
<line x1="239.50" y1="552.50" x2="383.50" y2="552.50" stroke="#b4b4b4" stroke-width="1"/>
<line x1="239.50" y1="543.50" x2="383.50" y2="543.50" stroke="#b4b4b4" stroke-width="1"/>
<line x1="239.50" y1="535.50" x2="239.50" y2="603.00" stroke="#555" stroke-width="1"/>
<line x1="237.00" y1="602.50" x2="383.50" y2="602.50" stroke="#555" stroke-width="1"/>
<line x1="237.00" y1="602.50" x2="239.50" y2="602.50" stroke="#555" stroke-width="1"/>
<text x="232.50" y="605.30" font-family="'Liberation Serif', serif" font-size="8.6" font-weight="normal" text-anchor="end" fill="#000">0</text>
<line x1="237.00" y1="594.50" x2="239.50" y2="594.50" stroke="#555" stroke-width="1"/>
<text x="232.50" y="596.91" font-family="'Liberation Serif', serif" font-size="8.6" font-weight="normal" text-anchor="end" fill="#000">0.2</text>
<line x1="237.00" y1="585.50" x2="239.50" y2="585.50" stroke="#555" stroke-width="1"/>
<text x="232.50" y="588.52" font-family="'Liberation Serif', serif" font-size="8.6" font-weight="normal" text-anchor="end" fill="#000">0.4</text>
<line x1="237.00" y1="577.50" x2="239.50" y2="577.50" stroke="#555" stroke-width="1"/>
<text x="232.50" y="580.14" font-family="'Liberation Serif', serif" font-size="8.6" font-weight="normal" text-anchor="end" fill="#000">0.6</text>
<line x1="237.00" y1="568.50" x2="239.50" y2="568.50" stroke="#555" stroke-width="1"/>
<text x="232.50" y="571.75" font-family="'Liberation Serif', serif" font-size="8.6" font-weight="normal" text-anchor="end" fill="#000">0.8</text>
<line x1="237.00" y1="560.50" x2="239.50" y2="560.50" stroke="#555" stroke-width="1"/>
<text x="232.50" y="563.36" font-family="'Liberation Serif', serif" font-size="8.6" font-weight="normal" text-anchor="end" fill="#000">1</text>
<line x1="237.00" y1="552.50" x2="239.50" y2="552.50" stroke="#555" stroke-width="1"/>
<text x="232.50" y="554.97" font-family="'Liberation Serif', serif" font-size="8.6" font-weight="normal" text-anchor="end" fill="#000">1.2</text>
<line x1="237.00" y1="543.50" x2="239.50" y2="543.50" stroke="#555" stroke-width="1"/>
<text x="232.50" y="546.59" font-family="'Liberation Serif', serif" font-size="8.6" font-weight="normal" text-anchor="end" fill="#000">1.4</text>
<line x1="237.00" y1="535.50" x2="239.50" y2="535.50" stroke="#555" stroke-width="1"/>
<text x="232.50" y="538.20" font-family="'Liberation Serif', serif" font-size="8.6" font-weight="normal" text-anchor="end" fill="#000">1.6</text>
<line x1="239.50" y1="602.50" x2="239.50" y2="605.00" stroke="#555" stroke-width="1"/>
<text x="239.00" y="616.80" font-family="'Liberation Serif', serif" font-size="8.6" font-weight="normal" text-anchor="middle" fill="#000">0</text>
<line x1="267.50" y1="602.50" x2="267.50" y2="605.00" stroke="#555" stroke-width="1"/>
<text x="267.90" y="616.80" font-family="'Liberation Serif', serif" font-size="8.6" font-weight="normal" text-anchor="middle" fill="#000">1</text>
<line x1="296.50" y1="602.50" x2="296.50" y2="605.00" stroke="#555" stroke-width="1"/>
<text x="296.80" y="616.80" font-family="'Liberation Serif', serif" font-size="8.6" font-weight="normal" text-anchor="middle" fill="#000">2</text>
<line x1="325.50" y1="602.50" x2="325.50" y2="605.00" stroke="#555" stroke-width="1"/>
<text x="325.70" y="616.80" font-family="'Liberation Serif', serif" font-size="8.6" font-weight="normal" text-anchor="middle" fill="#000">3</text>
<line x1="354.50" y1="602.50" x2="354.50" y2="605.00" stroke="#555" stroke-width="1"/>
<text x="354.60" y="616.80" font-family="'Liberation Serif', serif" font-size="8.6" font-weight="normal" text-anchor="middle" fill="#000">4</text>
<line x1="383.50" y1="602.50" x2="383.50" y2="605.00" stroke="#555" stroke-width="1"/>
<text x="383.50" y="616.80" font-family="'Liberation Serif', serif" font-size="8.6" font-weight="normal" text-anchor="middle" fill="#000">5</text>
<path d="M267.50,559.50L267.50,563.50M264.70,559.50L270.30,559.50M264.70,563.50L270.30,563.50" stroke="#555" stroke-width="1.1" fill="none"/>
<path d="M296.50,552.50L296.50,560.50M293.70,552.50L299.30,552.50M293.70,560.50L299.30,560.50" stroke="#555" stroke-width="1.1" fill="none"/>
<path d="M296.50,568.50L296.50,573.50M293.70,568.50L299.30,568.50M293.70,573.50L299.30,573.50" stroke="#555" stroke-width="1.1" fill="none"/>
<path d="M325.50,568.50L325.50,577.50M322.70,568.50L328.30,568.50M322.70,577.50L328.30,577.50" stroke="#555" stroke-width="1.1" fill="none"/>
<polyline points="239.00,560.56 267.90,570.21 296.80,569.37 325.70,571.89 354.60,573.14" fill="none" stroke="#000" stroke-width="1.3" stroke-linejoin="round"/>
<polyline points="239.00,560.56 267.90,560.56 296.80,560.56 325.70,560.56 354.60,560.56" fill="none" stroke="#000" stroke-width="1.0" stroke-linejoin="round"/>
<polyline points="239.00,560.56 267.90,562.24 296.80,558.47 325.70,555.11 354.60,560.56" fill="none" stroke="#000" stroke-width="1.2" stroke-linejoin="round"/>
<rect x="265.50" y="567.81" width="4.80" height="4.80" fill="#000"/>
<rect x="294.40" y="566.97" width="4.80" height="4.80" fill="#000"/>
<rect x="323.30" y="569.49" width="4.80" height="4.80" fill="#000"/>
<rect x="352.20" y="570.74" width="4.80" height="4.80" fill="#000"/>
<path d="M236.40,557.96L241.60,563.16M241.60,557.96L236.40,563.16" stroke="#000" stroke-width="1.2" fill="none"/>
<path d="M265.30,557.96L270.50,563.16M270.50,557.96L265.30,563.16" stroke="#000" stroke-width="1.2" fill="none"/>
<path d="M294.20,557.96L299.40,563.16M299.40,557.96L294.20,563.16" stroke="#000" stroke-width="1.2" fill="none"/>
<path d="M323.10,557.96L328.30,563.16M328.30,557.96L323.10,563.16" stroke="#000" stroke-width="1.2" fill="none"/>
<path d="M352.00,557.96L357.20,563.16M357.20,557.96L352.00,563.16" stroke="#000" stroke-width="1.2" fill="none"/>
<path d="M236.40,557.96L241.60,563.16M241.60,557.96L236.40,563.16M236.40,557.96L241.60,557.96M236.40,563.16L241.60,563.16" stroke="#000" stroke-width="1.3" fill="none"/>
<path d="M265.30,559.64L270.50,564.84M270.50,559.64L265.30,564.84M265.30,559.64L270.50,559.64M265.30,564.84L270.50,564.84" stroke="#000" stroke-width="1.3" fill="none"/>
<path d="M294.20,555.87L299.40,561.07M299.40,555.87L294.20,561.07M294.20,555.87L299.40,555.87M294.20,561.07L299.40,561.07" stroke="#000" stroke-width="1.3" fill="none"/>
<path d="M323.10,552.51L328.30,557.71M328.30,552.51L323.10,557.71M323.10,552.51L328.30,552.51M323.10,557.71L328.30,557.71" stroke="#000" stroke-width="1.3" fill="none"/>
<path d="M352.00,557.96L357.20,563.16M357.20,557.96L352.00,563.16M352.00,557.96L357.20,557.96M352.00,563.16L357.20,563.16" stroke="#000" stroke-width="1.3" fill="none"/>
<path d="M267.90,581.51L267.90,584.91M269.37,582.36L266.43,584.06M269.37,584.06L266.43,582.36" stroke="#6a6a6a" stroke-width="1.3" fill="none"/>
<circle cx="267.90" cy="583.21" r="1.1" fill="#6a6a6a"/>
<path d="M354.60,576.48L354.60,579.88M356.07,577.33L353.13,579.03M356.07,579.03L353.13,577.33" stroke="#6a6a6a" stroke-width="1.3" fill="none"/>
<circle cx="354.60" cy="578.18" r="1.1" fill="#6a6a6a"/>
<text x="325.70" y="586.89" font-family="'Liberation Serif', serif" font-size="8" font-weight="normal" text-anchor="middle" fill="#2a2a2a">§</text>
<text x="354.60" y="594.85" font-family="'Liberation Serif', serif" font-size="8" font-weight="normal" text-anchor="middle" fill="#2a2a2a">§</text>
<text x="210.70" y="573.40" font-family="'Liberation Serif', serif" font-size="8.3" font-weight="normal" text-anchor="middle" fill="#000" transform="rotate(-90 210.70 573.40)" textLength="60.5" lengthAdjust="spacingAndGlyphs">IL3R (REL MFI)</text>
<text x="307.00" y="628.00" font-family="'Liberation Serif', serif" font-size="8.3" font-weight="normal" text-anchor="middle" fill="#000">TIME (DAYS)</text>
<rect x="218.5" y="28.8" width="127" height="22.9" fill="#8e8e8e"/>
<rect x="218.5" y="58.2" width="126.4" height="16.9" fill="#8e8e8e"/>
<path d="M221.00,41.70 C221.00,37.80 223.00,37.80 225.00,37.80 L255.00,40.60 C257.00,40.60 259.00,40.60 259.00,42.90 C259.00,45.20 257.00,45.20 255.00,45.20 L225.00,45.60 C223.00,45.60 221.00,45.60 221.00,41.70Z" fill="#0c0c0c" filter="url(#bl)"/>
<path d="M262.00,43.60 C262.00,41.60 264.00,41.60 266.00,41.60 L293.00,41.80 C295.00,41.80 297.00,41.80 297.00,43.70 C297.00,45.60 295.00,45.60 293.00,45.60 L266.00,45.60 C264.00,45.60 262.00,45.60 262.00,43.60Z" fill="#1c1c1c" filter="url(#bl)"/>
<path d="M301.00,42.90 C301.00,40.40 303.00,40.40 305.00,40.40 L337.00,39.80 C339.00,39.80 341.00,39.80 341.00,42.90 C341.00,46.00 339.00,46.00 337.00,46.00 L305.00,45.40 C303.00,45.40 301.00,45.40 301.00,42.90Z" fill="#121212" filter="url(#bl)"/>
<rect x="218.5" y="28.8" width="127" height="1.2" fill="#6a6a6a"/>
<path d="M220.50,69.70 C220.50,66.80 222.50,66.80 224.50,66.80 L253.00,67.30 C255.00,67.30 257.00,67.30 257.00,69.85 C257.00,72.40 255.00,72.40 253.00,72.40 L224.50,72.60 C222.50,72.60 220.50,72.60 220.50,69.70Z" fill="#101010" filter="url(#bl)"/>
<path d="M259.00,70.10 C259.00,67.60 261.00,67.60 263.00,67.60 L293.00,67.80 C295.00,67.80 297.00,67.80 297.00,70.20 C297.00,72.60 295.00,72.60 293.00,72.60 L263.00,72.60 C261.00,72.60 259.00,72.60 259.00,70.10Z" fill="#141414" filter="url(#bl)"/>
<path d="M300.00,69.70 C300.00,67.20 302.00,67.20 304.00,67.20 L337.00,63.80 C339.00,63.80 341.00,63.80 341.00,66.90 C341.00,70.00 339.00,70.00 337.00,70.00 L304.00,72.20 C302.00,72.20 300.00,72.20 300.00,69.70Z" fill="#121212" filter="url(#bl)"/>
<rect x="218.5" y="58.2" width="126.4" height="1.2" fill="#6e6e6e"/>
<text x="175.00" y="41.20" font-family="'Liberation Serif', serif" font-size="9.7" font-weight="normal" text-anchor="start" fill="#000">TfR1</text>
<text x="175.00" y="52.90" font-family="'Liberation Serif', serif" font-size="9.7" font-weight="normal" text-anchor="start" fill="#000">(90 kDa)</text>
<text x="175.00" y="69.90" font-family="'Liberation Serif', serif" font-size="9.7" font-weight="normal" text-anchor="start" fill="#000">Actin</text>
<text x="175.00" y="81.70" font-family="'Liberation Serif', serif" font-size="9.7" font-weight="normal" text-anchor="start" fill="#000">(42 kDa)</text>
<line x1="198.00" y1="42.10" x2="213.80" y2="42.10" stroke="#111" stroke-width="1.3"/>
<polygon points="218.80,42.10 212.30,39.30 212.30,44.90" fill="#000"/>
<line x1="200.00" y1="70.00" x2="213.80" y2="70.00" stroke="#111" stroke-width="1.3"/>
<polygon points="218.80,70.00 212.30,67.20 212.30,72.80" fill="#000"/>
<path d="M218.50,95.50L341.50,95.50L341.50,142.50" stroke="#9a9a9a" stroke-width="1" fill="none"/>
<line x1="215.50" y1="130.50" x2="341.50" y2="130.50" stroke="#9a9a9a" stroke-width="1"/>
<line x1="215.50" y1="118.50" x2="341.50" y2="118.50" stroke="#9a9a9a" stroke-width="1"/>
<line x1="215.50" y1="106.50" x2="341.50" y2="106.50" stroke="#9a9a9a" stroke-width="1"/>
<line x1="218.50" y1="95.50" x2="218.50" y2="143.00" stroke="#888" stroke-width="1"/>
<line x1="215.50" y1="142.50" x2="341.50" y2="142.50" stroke="#666" stroke-width="1"/>
<line x1="215.50" y1="95.50" x2="218.50" y2="95.50" stroke="#9a9a9a" stroke-width="1"/>
<text x="210.30" y="145.50" font-family="'Liberation Serif', serif" font-size="9.6" font-weight="normal" text-anchor="end" fill="#000">0</text>
<text x="210.30" y="133.70" font-family="'Liberation Serif', serif" font-size="9.6" font-weight="normal" text-anchor="end" fill="#000">20</text>
<text x="210.30" y="121.90" font-family="'Liberation Serif', serif" font-size="9.6" font-weight="normal" text-anchor="end" fill="#000">40</text>
<text x="210.30" y="110.10" font-family="'Liberation Serif', serif" font-size="9.6" font-weight="normal" text-anchor="end" fill="#000">60</text>
<text x="210.30" y="98.30" font-family="'Liberation Serif', serif" font-size="9.6" font-weight="normal" text-anchor="end" fill="#000">80</text>
<line x1="218.50" y1="142.50" x2="218.50" y2="145.50" stroke="#999" stroke-width="1"/>
<line x1="259.50" y1="142.50" x2="259.50" y2="145.50" stroke="#999" stroke-width="1"/>
<line x1="300.50" y1="142.50" x2="300.50" y2="145.50" stroke="#999" stroke-width="1"/>
<line x1="341.50" y1="142.50" x2="341.50" y2="145.50" stroke="#999" stroke-width="1"/>
<rect x="230.60" y="104.44" width="16.00" height="37.76" fill="#fff" stroke="#000" stroke-width="1"/>
<rect x="271.40" y="123.91" width="16.30" height="18.29" fill="#000" stroke="#000" stroke-width="1"/>
<rect x="312.20" y="121.37" width="16.60" height="20.83" fill="url(#hatch)" stroke="#000" stroke-width="1"/>
<text x="193.00" y="118.50" font-family="'Liberation Serif', serif" font-size="9.5" font-weight="normal" text-anchor="middle" fill="#000" transform="rotate(-90 193.00 118.50)" textLength="19.5" lengthAdjust="spacingAndGlyphs">TfR1</text>
<text x="236.00" y="158.50" font-family="'Liberation Serif', serif" font-size="9.8" font-weight="normal" text-anchor="end" fill="#000" transform="rotate(-45 236.00 158.50)">CTRL</text>
<text x="277.50" y="159.50" font-family="'Liberation Serif', serif" font-size="9.8" font-weight="normal" text-anchor="end" fill="#000" transform="rotate(-45 277.50 159.50)">HZ</text>
<text x="318.00" y="158.50" font-family="'Liberation Serif', serif" font-size="9.8" font-weight="normal" text-anchor="end" fill="#000" transform="rotate(-45 318.00 158.50)">HNE</text>
<rect x="404.5" y="30.5" width="116" height="21.3" fill="#939393"/>
<rect x="403" y="57.7" width="117" height="18.3" fill="#939393"/>
<path d="M405.50,41.75 C405.50,40.70 406.50,40.70 407.50,40.70 L437.00,40.90 C438.00,40.90 439.00,40.90 439.00,41.90 C439.00,42.90 438.00,42.90 437.00,42.90 L407.50,42.80 C406.50,42.80 405.50,42.80 405.50,41.75Z" fill="#2a2a2a" filter="url(#bl2)"/>
<path d="M446.00,42.10 C446.00,41.10 447.00,41.10 448.00,41.10 L475.50,40.50 C476.50,40.50 477.50,40.50 477.50,41.50 C477.50,42.50 476.50,42.50 475.50,42.50 L448.00,43.10 C447.00,43.10 446.00,43.10 446.00,42.10Z" fill="#333" filter="url(#bl2)"/>
<path d="M484.00,41.50 C484.00,40.70 485.00,40.70 486.00,40.70 L512.50,39.70 C513.50,39.70 514.50,39.70 514.50,40.50 C514.50,41.30 513.50,41.30 512.50,41.30 L486.00,42.30 C485.00,42.30 484.00,42.30 484.00,41.50Z" fill="#4a4a4a" filter="url(#bl2)"/>
<path d="M404.50,66.15 C404.50,64.50 405.50,64.50 406.50,64.50 L426.00,64.20 C427.00,64.20 428.00,64.20 428.00,65.80 C428.00,67.40 427.00,67.40 426.00,67.40 L406.50,67.80 C405.50,67.80 404.50,67.80 404.50,66.15Z" fill="#141414" filter="url(#bl2)"/>
<path d="M431.00,66.90 C431.00,65.40 432.00,65.40 433.00,65.40 L439.50,65.40 C440.50,65.40 441.50,65.40 441.50,66.80 C441.50,68.20 440.50,68.20 439.50,68.20 L433.00,68.40 C432.00,68.40 431.00,68.40 431.00,66.90Z" fill="#141414" filter="url(#bl2)"/>
<path d="M442.50,66.40 C442.50,64.60 443.50,64.60 444.50,64.60 L478.00,64.40 C479.00,64.40 480.00,64.40 480.00,66.20 C480.00,68.00 479.00,68.00 478.00,68.00 L444.50,68.20 C443.50,68.20 442.50,68.20 442.50,66.40Z" fill="#101010" filter="url(#bl2)"/>
<path d="M478.00,66.40 C478.00,64.40 479.25,64.40 480.50,64.40 L514.00,63.60 C515.25,63.60 516.50,63.60 516.50,65.60 C516.50,67.60 515.25,67.60 514.00,67.60 L480.50,68.40 C479.25,68.40 478.00,68.40 478.00,66.40Z" fill="#0e0e0e" filter="url(#bl2)"/>
<rect x="404.5" y="30.5" width="116" height="1" fill="#777"/>
<rect x="403" y="57.7" width="117" height="1" fill="#777"/>
<text x="352.20" y="39.80" font-family="'Liberation Serif', serif" font-size="10.4" font-weight="normal" text-anchor="start" fill="#000">GATA-1</text>
<text x="352.20" y="51.10" font-family="'Liberation Serif', serif" font-size="10.1" font-weight="normal" text-anchor="start" fill="#000">(43 kDa)</text>
<text x="352.20" y="65.00" font-family="'Liberation Serif', serif" font-size="10.1" font-weight="normal" text-anchor="start" fill="#000">Actin</text>
<text x="352.20" y="76.40" font-family="'Liberation Serif', serif" font-size="10.1" font-weight="normal" text-anchor="start" fill="#000">(42 kDa,</text>
<line x1="385.50" y1="42.10" x2="400.00" y2="42.10" stroke="#111" stroke-width="1.3"/>
<polygon points="405.00,42.10 398.50,39.30 398.50,44.90" fill="#000"/>
<line x1="385.50" y1="67.20" x2="398.50" y2="67.20" stroke="#111" stroke-width="1.3"/>
<polygon points="403.50,67.20 397.00,64.40 397.00,70.00" fill="#000"/>
<path d="M402.50,98.50L516.50,98.50L516.50,138.50" stroke="#9a9a9a" stroke-width="1" fill="none"/>
<line x1="399.50" y1="125.50" x2="516.50" y2="125.50" stroke="#9a9a9a" stroke-width="1"/>
<line x1="399.50" y1="112.50" x2="516.50" y2="112.50" stroke="#9a9a9a" stroke-width="1"/>
<line x1="402.50" y1="98.50" x2="402.50" y2="139.00" stroke="#888" stroke-width="1"/>
<line x1="399.50" y1="138.50" x2="516.50" y2="138.50" stroke="#666" stroke-width="1"/>
<line x1="399.50" y1="98.50" x2="402.50" y2="98.50" stroke="#9a9a9a" stroke-width="1"/>
<text x="395.30" y="142.10" font-family="'Liberation Serif', serif" font-size="9.6" font-weight="normal" text-anchor="end" fill="#000">0</text>
<text x="395.30" y="128.77" font-family="'Liberation Serif', serif" font-size="9.6" font-weight="normal" text-anchor="end" fill="#000">5</text>
<text x="395.30" y="115.43" font-family="'Liberation Serif', serif" font-size="9.6" font-weight="normal" text-anchor="end" fill="#000">10</text>
<text x="395.30" y="102.10" font-family="'Liberation Serif', serif" font-size="9.6" font-weight="normal" text-anchor="end" fill="#000">15</text>
<line x1="402.50" y1="138.50" x2="402.50" y2="141.50" stroke="#999" stroke-width="1"/>
<line x1="440.50" y1="138.50" x2="440.50" y2="141.50" stroke="#999" stroke-width="1"/>
<line x1="478.50" y1="138.50" x2="478.50" y2="141.50" stroke="#999" stroke-width="1"/>
<line x1="516.50" y1="138.50" x2="516.50" y2="141.50" stroke="#999" stroke-width="1"/>
<rect x="413.90" y="104.13" width="15.70" height="34.67" fill="#fff" stroke="#000" stroke-width="1"/>
<rect x="452.50" y="121.20" width="16.30" height="17.60" fill="url(#hatchE)" stroke="#000" stroke-width="1"/>
<rect x="491.00" y="122.53" width="16.00" height="16.27" fill="#000" stroke="#000" stroke-width="1"/>
<text x="378.50" y="117.70" font-family="'Liberation Serif', serif" font-size="9.5" font-weight="normal" text-anchor="middle" fill="#000" transform="rotate(-90 378.50 117.70)" textLength="37" lengthAdjust="spacingAndGlyphs">GATA-1</text>
<text x="418.50" y="155.50" font-family="'Liberation Serif', serif" font-size="9.8" font-weight="normal" text-anchor="end" fill="#000" transform="rotate(-45 418.50 155.50)">CTRL</text>
<text x="458.00" y="154.50" font-family="'Liberation Serif', serif" font-size="9.8" font-weight="normal" text-anchor="end" fill="#000" transform="rotate(-45 458.00 154.50)">HNE</text>
<text x="497.00" y="154.50" font-family="'Liberation Serif', serif" font-size="9.8" font-weight="normal" text-anchor="end" fill="#000" transform="rotate(-45 497.00 154.50)">HZ</text>
<polygon points="403.0,285.5 403.8,284.8 404.8,284.1 406.0,283.1 407.4,281.8 408.7,280.4 410.0,278.3 411.3,276.2 412.6,272.5 414.0,270.1 415.3,267.6 416.5,264.1 417.5,261.5 418.3,257.7 418.9,255.2 419.5,252.0 419.9,249.5 420.4,246.7 421.0,243.4 421.6,241.0 422.3,238.3 423.0,236.3 423.7,233.8 424.4,231.2 425.0,230.9 425.6,229.8 426.2,230.9 426.8,231.3 427.3,232.4 427.9,235.0 428.5,235.7 429.1,237.2 429.7,239.9 430.4,241.7 431.0,243.0 431.6,245.9 432.3,247.3 433.0,249.5 433.6,250.9 434.3,253.8 435.0,255.6 435.7,257.9 436.4,259.9 437.1,261.2 437.7,263.5 438.3,265.4 439.0,267.4 439.7,269.3 440.4,271.3 441.2,273.1 442.0,273.6 442.9,275.5 443.9,276.1 444.8,277.1 445.8,278.7 446.8,279.3 447.9,280.2 449.0,281.5 450.2,282.7 451.3,282.8 452.5,284.0 453.8,284.5 455.2,284.9 456.7,285.1 458.0,285.3 459.2,285.4 460.0,285.5" fill="#fff" stroke="none"/>
<polygon points="402.7,285.5 403.2,284.7 403.8,284.3 404.5,281.9 405.3,281.4 406.2,280.0 407.0,277.4 407.8,276.7 408.6,274.4 409.5,272.7 410.4,270.0 411.3,267.8 412.2,265.6 413.2,263.8 414.3,259.7 415.4,257.1 416.4,254.1 417.4,251.3 418.2,248.4 418.8,247.0 419.4,246.4 419.8,246.2 420.1,245.2 420.5,245.7 421.0,245.4 421.5,244.8 422.1,243.1 422.6,243.6 423.2,242.0 423.8,241.9 424.3,242.1 424.8,242.7 425.4,242.5 425.9,243.8 426.4,244.2 427.0,244.8 427.5,245.8 428.0,246.6 428.6,247.6 429.1,248.9 429.7,250.9 430.3,252.8 431.0,253.6 431.8,255.6 432.7,259.3 433.6,261.5 434.5,264.1 435.5,266.4 436.4,268.9 437.3,270.8 438.1,271.6 438.9,272.6 439.8,273.1 440.7,275.1 441.8,275.0 443.0,276.8 444.2,278.4 445.5,278.7 446.9,280.6 448.3,281.9 449.8,282.5 451.4,283.4 453.2,283.3 455.1,284.3 456.8,284.8 458.2,285.2 459.3,285.5" fill="#acacac" stroke="#8a8a8a" stroke-width="0.7"/>
<polyline points="401.0,285.5 401.2,284.9 401.4,284.2 401.7,283.2 401.9,281.8 402.2,281.5 402.5,279.8 402.7,278.9 403.0,278.5 403.2,277.1 403.5,276.0 403.7,273.8 404.0,272.0 404.3,270.0 404.6,267.1 405.0,264.0 405.3,261.1 405.7,257.7 406.0,254.9 406.3,252.3 406.7,248.8 407.0,244.8 407.3,241.1 407.7,237.7 408.0,234.5 408.3,232.2 408.7,230.4 409.1,228.4 409.4,226.0 409.8,225.0 410.1,224.0 410.4,223.4 410.7,223.4 411.1,223.8 411.4,224.0 411.7,225.3 412.0,225.7 412.3,227.2 412.7,229.1 413.0,230.7 413.3,232.1 413.7,234.8 414.0,236.2 414.3,237.8 414.7,238.8 415.0,241.1 415.4,242.4 415.8,244.6 416.2,246.0 416.7,247.9 417.2,249.2 417.8,250.9 418.3,251.9 418.9,253.8 419.5,255.7 420.1,257.7 420.6,259.2 421.2,262.0 421.8,264.2 422.4,266.1 423.0,268.6 423.6,270.6 424.3,272.2 424.9,274.3 425.6,275.9 426.3,278.5 427.0,280.1 427.7,280.8 428.5,282.1 429.2,283.0 430.1,283.7 431.0,283.6 432.0,284.5 433.3,284.9 434.7,285.2 436.3,285.3 437.8,285.4 439.1,285.4 440.0,285.5" fill="none" stroke="#c8c8c8" stroke-width="0.9" stroke-linejoin="round"/>
<polyline points="403.0,285.5 403.8,284.8 404.8,284.2 406.0,282.9 407.4,281.7 408.7,279.8 410.0,278.1 411.3,276.0 412.6,273.2 414.0,270.4 415.3,266.5 416.5,263.5 417.5,260.9 418.3,258.3 418.9,254.9 419.5,252.5 419.9,249.6 420.4,246.1 421.0,244.0 421.6,241.0 422.3,238.0 423.0,235.4 423.7,233.2 424.4,231.2 425.0,230.1 425.6,229.7 426.2,230.7 426.8,231.6 427.3,233.2 427.9,234.6 428.5,235.7 429.1,238.0 429.7,238.7 430.4,241.1 431.0,243.0 431.6,245.2 432.3,246.8 433.0,249.7 433.6,251.1 434.3,252.7 435.0,255.5 435.7,256.9 436.4,259.5 437.1,261.3 437.7,263.7 438.3,266.3 439.0,268.2 439.7,269.7 440.4,271.9 441.2,273.1 442.0,274.0 442.9,274.9 443.9,276.4 444.8,277.4 445.8,278.8 446.8,279.9 447.9,280.6 449.0,281.3 450.2,282.9 451.3,282.7 452.5,284.0 453.8,284.5 455.2,284.9 456.7,285.1 458.0,285.3 459.2,285.4 460.0,285.5" fill="none" stroke="#9a9a9a" stroke-width="0.9" stroke-linejoin="round"/>
<polyline points="402.0,285.5 402.9,284.5 404.1,282.8 405.5,281.8 407.0,280.0 408.6,277.2 410.0,275.2 411.4,272.2 412.8,267.7 414.2,263.5 415.5,258.9 416.8,255.1 418.0,252.6 419.1,249.1 420.1,247.2 421.0,244.9 421.9,242.7 422.8,241.0 423.6,241.2 424.4,240.6 425.1,241.3 425.8,242.4 426.5,244.8 427.2,246.0 428.0,247.7 428.9,250.2 429.9,252.4 430.9,255.9 431.9,258.7 433.0,261.3 434.0,264.3 435.0,266.6 435.9,267.6 436.9,270.1 437.9,271.5 438.9,274.0 440.0,275.3 441.2,276.1 442.4,277.5 443.8,278.6 445.1,280.7 446.5,280.8 448.0,282.1 449.7,282.8 451.6,283.7 453.5,284.2 455.3,284.7 456.9,285.2 458.0,285.5" fill="none" stroke="#5a5a5a" stroke-width="0.8" stroke-linejoin="round"/>
<line x1="401.20" y1="285.50" x2="401.20" y2="262.00" stroke="#bdbdbd" stroke-width="1.2"/>
<line x1="400.70" y1="211.00" x2="400.70" y2="285.50" stroke="#b0b0b0" stroke-width="0.9"/>
<line x1="400.70" y1="285.80" x2="504.40" y2="285.80" stroke="#8a8a8a" stroke-width="0.9"/>
<line x1="401.00" y1="285.50" x2="401.00" y2="287.30" stroke="#888" stroke-width="0.7"/>
<text x="400.20" y="292.70" font-family="'Liberation Serif', serif" font-size="6.0" font-weight="normal" text-anchor="middle" fill="#000">10</text>
<text x="403.60" y="290.10" font-family="'Liberation Serif', serif" font-size="3.8" font-weight="normal" text-anchor="start" fill="#000">0</text>
<line x1="427.00" y1="285.50" x2="427.00" y2="287.30" stroke="#888" stroke-width="0.7"/>
<text x="426.20" y="292.70" font-family="'Liberation Serif', serif" font-size="6.0" font-weight="normal" text-anchor="middle" fill="#000">10</text>
<text x="429.60" y="290.10" font-family="'Liberation Serif', serif" font-size="3.8" font-weight="normal" text-anchor="start" fill="#000">1</text>
<line x1="452.70" y1="285.50" x2="452.70" y2="287.30" stroke="#888" stroke-width="0.7"/>
<text x="451.90" y="292.70" font-family="'Liberation Serif', serif" font-size="6.0" font-weight="normal" text-anchor="middle" fill="#000">10</text>
<text x="455.30" y="290.10" font-family="'Liberation Serif', serif" font-size="3.8" font-weight="normal" text-anchor="start" fill="#000">2</text>
<line x1="479.60" y1="285.50" x2="479.60" y2="287.30" stroke="#888" stroke-width="0.7"/>
<text x="478.80" y="292.70" font-family="'Liberation Serif', serif" font-size="6.0" font-weight="normal" text-anchor="middle" fill="#000">10</text>
<text x="482.20" y="290.10" font-family="'Liberation Serif', serif" font-size="3.8" font-weight="normal" text-anchor="start" fill="#000">3</text>
<line x1="503.90" y1="285.50" x2="503.90" y2="287.30" stroke="#888" stroke-width="0.7"/>
<text x="503.10" y="292.70" font-family="'Liberation Serif', serif" font-size="6.0" font-weight="normal" text-anchor="middle" fill="#000">10</text>
<text x="506.50" y="290.10" font-family="'Liberation Serif', serif" font-size="3.8" font-weight="normal" text-anchor="start" fill="#000">4</text>
<text x="398.30" y="211.00" font-family="'Liberation Serif', serif" font-size="7.0" font-weight="bold" text-anchor="end" fill="#222" transform="rotate(-90 398.30 211.00)">548</text>
<text x="398.30" y="287.00" font-family="'Liberation Serif', serif" font-size="6.5" font-weight="bold" text-anchor="middle" fill="#000" transform="rotate(-90 398.30 287.00)">0</text>
<text x="394.50" y="249.50" font-family="'Liberation Serif', serif" font-size="8.0" font-weight="normal" text-anchor="middle" fill="#000" transform="rotate(-90 394.50 249.50)" textLength="31" lengthAdjust="spacingAndGlyphs">EVENTS</text>
<text x="405.80" y="219.60" font-family="'Liberation Serif', serif" font-size="7.9" font-weight="bold" text-anchor="start" fill="#000">HNE</text>
<text x="425.00" y="219.60" font-family="'Liberation Serif', serif" font-size="7.9" font-weight="bold" text-anchor="start" fill="#000">HZ</text>
<text x="445.80" y="219.60" font-family="'Liberation Serif', serif" font-size="7.9" font-weight="bold" text-anchor="start" fill="#000">CTRL</text>
<line x1="415.80" y1="222.70" x2="420.40" y2="240.40" stroke="#222" stroke-width="0.9"/>
<line x1="425.80" y1="222.70" x2="424.20" y2="240.00" stroke="#222" stroke-width="0.9"/>
<line x1="453.50" y1="223.50" x2="434.20" y2="242.00" stroke="#222" stroke-width="0.9"/>
<text x="453.00" y="305.00" font-family="'Liberation Serif', serif" font-size="10.5" font-weight="normal" text-anchor="middle" fill="#000">TfR1</text>
<polygon points="408.0,392.3 408.4,391.6 408.8,390.9 409.4,389.9 410.1,388.0 410.8,387.5 411.5,385.8 412.3,384.8 413.2,383.2 414.1,381.8 415.1,380.7 416.0,379.3 417.0,377.8 418.0,377.0 418.9,375.6 419.9,373.6 420.8,372.7 421.9,371.8 423.0,371.3 424.2,370.3 425.6,368.9 427.0,367.4 428.4,367.5 429.7,366.4 430.8,366.1 431.8,365.9 432.6,365.6 433.4,365.4 434.1,366.0 434.8,365.5 435.6,365.9 436.4,366.9 437.2,366.8 437.9,367.7 438.7,369.2 439.6,369.3 440.4,371.2 441.3,372.1 442.2,373.0 443.1,374.1 444.1,376.0 445.0,377.6 446.0,378.1 447.0,380.0 448.0,381.8 449.0,383.5 450.0,384.9 451.0,386.3 452.0,388.1 453.0,389.4 454.1,389.5 455.2,390.4 456.2,391.4 457.1,391.9 457.7,392.3" fill="#fff" stroke="none"/>
<polygon points="411.5,392.3 412.1,391.6 412.9,391.0 413.9,389.9 414.9,388.5 416.0,386.5 417.0,386.3 418.0,385.6 419.0,384.7 420.0,383.4 421.1,381.7 422.1,381.7 423.0,380.1 423.9,379.6 424.7,379.0 425.5,377.7 426.3,376.0 427.1,375.3 427.9,375.1 428.7,373.3 429.6,373.1 430.4,372.0 431.3,371.0 432.1,370.8 433.0,369.5 433.9,368.9 434.8,368.7 435.7,367.9 436.7,367.4 437.6,367.6 438.5,367.3 439.4,366.8 440.3,365.1 441.2,364.7 442.0,363.9 442.9,363.9 443.8,364.0 444.7,365.3 445.7,365.8 446.6,366.9 447.5,369.4 448.3,370.5 449.0,372.9 449.5,374.5 449.8,376.9 450.0,378.6 450.2,380.7 450.5,382.2 451.0,384.3 451.7,385.5 452.6,387.8 453.5,389.0 454.5,389.9 455.2,391.5 455.8,392.3" fill="#acacac" stroke="#8a8a8a" stroke-width="0.7"/>
<polyline points="407.7,392.3 407.8,391.7 408.0,391.0 408.2,389.7 408.4,388.7 408.7,387.9 409.0,385.6 409.4,384.4 409.9,382.2 410.4,379.1 410.9,377.3 411.5,374.0 412.0,371.5 412.5,369.5 413.0,366.2 413.4,364.1 413.9,360.8 414.4,358.0 415.0,356.4 415.6,353.5 416.3,352.5 417.1,350.0 417.8,348.8 418.5,348.8 419.2,347.9 419.8,347.2 420.4,347.2 420.9,348.7 421.4,349.2 421.9,350.7 422.5,351.6 423.1,354.6 423.6,357.4 424.2,360.8 424.8,364.5 425.4,368.2 426.0,370.6 426.6,372.8 427.2,374.3 427.8,376.6 428.5,377.7 429.2,379.1 430.0,379.9 430.8,381.6 431.7,382.3 432.7,383.4 433.7,384.4 434.8,385.4 436.0,385.9 437.3,386.3 438.7,387.0 440.2,387.9 441.8,388.3 443.4,389.9 445.0,390.0 446.7,390.8 448.6,391.0 450.6,391.4 452.4,391.8 453.9,392.1 455.0,392.3" fill="none" stroke="#c8c8c8" stroke-width="0.9" stroke-linejoin="round"/>
<polyline points="408.0,392.3 408.4,391.6 408.8,390.1 409.4,389.6 410.1,388.9 410.8,387.4 411.5,385.9 412.3,384.7 413.2,382.9 414.1,381.6 415.1,380.3 416.0,379.2 417.0,377.9 418.0,377.2 418.9,375.0 419.9,373.9 420.8,372.7 421.9,371.4 423.0,370.5 424.2,369.5 425.6,368.8 427.0,367.4 428.4,367.7 429.7,366.3 430.8,366.5 431.8,365.9 432.6,365.7 433.4,365.4 434.1,366.0 434.8,365.2 435.6,366.2 436.4,366.2 437.2,367.3 437.9,368.2 438.7,368.4 439.6,369.4 440.4,370.2 441.3,371.6 442.2,372.6 443.1,374.2 444.1,376.3 445.0,376.9 446.0,378.3 447.0,380.0 448.0,381.5 449.0,383.7 450.0,385.4 451.0,386.3 452.0,387.7 453.0,389.3 454.1,390.5 455.2,390.9 456.2,391.4 457.1,391.9 457.7,392.3" fill="none" stroke="#9a9a9a" stroke-width="0.9" stroke-linejoin="round"/>
<polyline points="405.8,392.3 406.4,391.9 407.1,391.4 408.0,390.8 409.0,390.1 410.0,390.1 411.0,388.4 412.0,388.0 413.0,388.4 414.0,387.5 415.1,386.6 416.2,386.7 417.3,386.8 418.5,385.7 419.7,384.9 420.9,384.1 422.2,383.5 423.6,384.1 425.0,383.3 426.5,383.7 428.2,382.6 429.9,382.9 431.6,382.8 433.4,383.3 435.0,383.0 436.6,383.2 438.3,383.3 439.9,383.2 441.4,382.9 442.9,383.0 444.2,384.4 445.4,383.9 446.4,384.9 447.3,385.5 448.2,386.5 449.1,386.8 450.0,387.8 451.0,388.3 452.1,389.6 453.3,390.9 454.3,391.2 455.2,391.8 455.8,392.3" fill="none" stroke="#5a5a5a" stroke-width="0.8" stroke-linejoin="round"/>
<polyline points="452.0,392.3 452.4,392.1 453.0,391.9 453.7,391.6 454.4,391.2 455.2,390.8 456.0,390.4 456.8,388.8 457.7,387.6 458.6,387.1 459.6,385.8 460.5,384.7 461.5,383.2 462.5,382.1 463.5,380.6 464.5,379.3 465.5,377.0 466.4,375.7 467.3,375.0 468.1,373.2 468.8,372.1 469.4,371.4 470.1,370.5 470.7,371.0 471.5,371.2 472.3,371.2 473.2,372.1 474.2,373.4 475.1,375.2 476.1,376.6 477.0,378.4 477.9,379.9 478.8,380.8 479.7,381.9 480.6,384.0 481.6,384.5 482.7,385.8 484.0,387.1 485.4,388.4 486.9,389.2 488.3,390.7 489.5,391.7 490.4,392.3" fill="none" stroke="#9a9a9a" stroke-width="0.9" stroke-linejoin="round"/>
<line x1="405.80" y1="318.00" x2="405.80" y2="392.30" stroke="#b0b0b0" stroke-width="0.9"/>
<line x1="405.80" y1="392.60" x2="506.50" y2="392.60" stroke="#8a8a8a" stroke-width="0.9"/>
<line x1="405.80" y1="392.30" x2="405.80" y2="394.10" stroke="#888" stroke-width="0.7"/>
<text x="405.00" y="399.50" font-family="'Liberation Serif', serif" font-size="6.0" font-weight="normal" text-anchor="middle" fill="#000">10</text>
<text x="408.40" y="396.90" font-family="'Liberation Serif', serif" font-size="3.8" font-weight="normal" text-anchor="start" fill="#000">0</text>
<line x1="429.80" y1="392.30" x2="429.80" y2="394.10" stroke="#888" stroke-width="0.7"/>
<text x="429.00" y="399.50" font-family="'Liberation Serif', serif" font-size="6.0" font-weight="normal" text-anchor="middle" fill="#000">10</text>
<text x="432.40" y="396.90" font-family="'Liberation Serif', serif" font-size="3.8" font-weight="normal" text-anchor="start" fill="#000">1</text>
<line x1="455.40" y1="392.30" x2="455.40" y2="394.10" stroke="#888" stroke-width="0.7"/>
<text x="454.60" y="399.50" font-family="'Liberation Serif', serif" font-size="6.0" font-weight="normal" text-anchor="middle" fill="#000">10</text>
<text x="458.00" y="396.90" font-family="'Liberation Serif', serif" font-size="3.8" font-weight="normal" text-anchor="start" fill="#000">2</text>
<line x1="482.30" y1="392.30" x2="482.30" y2="394.10" stroke="#888" stroke-width="0.7"/>
<text x="481.50" y="399.50" font-family="'Liberation Serif', serif" font-size="6.0" font-weight="normal" text-anchor="middle" fill="#000">10</text>
<text x="484.90" y="396.90" font-family="'Liberation Serif', serif" font-size="3.8" font-weight="normal" text-anchor="start" fill="#000">3</text>
<line x1="506.00" y1="392.30" x2="506.00" y2="394.10" stroke="#888" stroke-width="0.7"/>
<text x="505.20" y="399.50" font-family="'Liberation Serif', serif" font-size="6.0" font-weight="normal" text-anchor="middle" fill="#000">10</text>
<text x="508.60" y="396.90" font-family="'Liberation Serif', serif" font-size="3.8" font-weight="normal" text-anchor="start" fill="#000">4</text>
<text x="403.40" y="318.00" font-family="'Liberation Serif', serif" font-size="7.0" font-weight="bold" text-anchor="end" fill="#222" transform="rotate(-90 403.40 318.00)">622</text>
<text x="403.40" y="393.80" font-family="'Liberation Serif', serif" font-size="6.5" font-weight="bold" text-anchor="middle" fill="#000" transform="rotate(-90 403.40 393.80)">0</text>
<text x="400.00" y="357.60" font-family="'Liberation Serif', serif" font-size="8.0" font-weight="normal" text-anchor="middle" fill="#000" transform="rotate(-90 400.00 357.60)" textLength="31" lengthAdjust="spacingAndGlyphs">EVENTS</text>
<text x="426.00" y="327.00" font-family="'Liberation Serif', serif" font-size="7.9" font-weight="bold" text-anchor="start" fill="#000">HNE</text>
<text x="450.40" y="327.00" font-family="'Liberation Serif', serif" font-size="7.9" font-weight="bold" text-anchor="start" fill="#000">HZ</text>
<text x="470.20" y="327.00" font-family="'Liberation Serif', serif" font-size="7.9" font-weight="bold" text-anchor="start" fill="#000">CTRL</text>
<line x1="434.60" y1="330.40" x2="430.40" y2="366.00" stroke="#222" stroke-width="0.9"/>
<line x1="452.00" y1="330.40" x2="448.00" y2="366.00" stroke="#222" stroke-width="0.9"/>
<line x1="472.70" y1="330.40" x2="471.50" y2="368.80" stroke="#222" stroke-width="0.9"/>
<text x="448.60" y="410.00" font-family="'Liberation Serif', serif" font-size="10.5" font-weight="normal" text-anchor="middle" fill="#000">SCFR</text>
<polygon points="410.0,492.0 410.4,491.7 410.9,491.3 411.5,490.8 412.1,489.9 412.8,489.5 413.5,488.1 414.2,486.9 414.9,484.8 415.7,482.9 416.4,480.4 417.2,477.7 418.0,475.4 418.8,471.9 419.6,468.4 420.4,464.1 421.3,460.1 422.1,456.0 423.0,453.9 423.9,451.4 424.9,449.7 426.0,448.7 427.0,448.2 427.9,447.8 428.8,447.9 429.5,447.1 430.2,446.7 430.8,447.5 431.3,447.5 432.0,447.3 432.7,448.2 433.6,449.4 434.5,451.3 435.5,453.7 436.5,455.8 437.5,457.4 438.5,458.9 439.4,461.0 440.3,462.9 441.2,464.9 442.1,466.5 443.1,469.1 444.2,471.2 445.3,472.8 446.5,473.7 447.7,475.9 449.0,477.0 450.5,479.2 452.0,480.3 453.7,482.4 455.5,483.6 457.4,484.1 459.4,485.6 461.4,487.5 463.5,488.0 465.8,488.8 468.4,489.7 471.0,490.8 473.4,491.1 475.5,491.6 477.0,492.0" fill="#fff" stroke="none"/>
<polygon points="440.4,492.0 440.7,491.0 441.1,490.3 441.6,488.2 442.1,486.9 442.6,484.4 443.0,481.5 443.4,479.7 443.7,476.2 444.0,472.5 444.4,470.3 444.7,465.7 445.2,463.1 445.8,459.7 446.4,456.6 447.1,452.6 447.8,449.0 448.4,446.1 449.0,443.4 449.5,441.7 449.9,439.6 450.3,438.5 450.7,436.7 451.1,436.2 451.5,435.9 452.0,437.3 452.6,438.4 453.1,440.1 453.7,441.8 454.3,443.7 454.8,445.4 455.3,448.2 455.8,450.0 456.2,451.7 456.7,454.2 457.2,456.4 457.7,459.5 458.3,462.0 458.8,463.5 459.4,466.5 460.1,468.3 460.7,470.9 461.5,473.1 462.3,474.7 463.2,476.7 464.2,477.8 465.2,478.9 466.2,480.9 467.3,482.4 468.5,483.2 469.7,484.8 471.0,485.8 472.4,486.6 473.7,487.9 475.0,488.9 476.4,489.7 477.9,490.6 479.3,490.9 480.7,491.4 481.9,491.7 482.7,492.0" fill="#fff" stroke="none"/>
<polygon points="413.5,492.0 414.3,490.8 415.5,489.2 416.9,488.0 418.3,485.7 419.8,483.4 421.0,480.6 422.1,477.7 423.1,474.3 424.1,471.1 425.1,467.1 426.0,464.0 427.0,461.2 428.0,458.3 428.9,455.3 429.9,452.6 430.8,450.5 431.7,449.3 432.7,448.8 433.7,449.2 434.6,450.2 435.6,451.3 436.6,454.0 437.5,455.2 438.5,457.6 439.4,458.6 440.3,461.4 441.2,463.4 442.1,465.8 443.1,467.7 444.2,469.0 445.4,470.5 446.7,471.4 448.1,472.1 449.5,472.4 450.8,473.6 452.0,475.1 453.0,475.5 454.0,477.7 454.9,478.5 455.7,479.7 456.7,480.5 457.7,482.2 458.9,483.0 460.1,484.6 461.4,485.9 462.8,486.8 464.1,487.3 465.4,487.9 466.8,488.3 468.2,489.8 469.7,490.4 471.0,491.0 472.2,491.6 473.0,492.0" fill="#acacac" stroke="#8a8a8a" stroke-width="0.7"/>
<polyline points="407.0,492.0 407.2,490.6 407.5,489.0 407.8,486.4 408.2,484.4 408.6,480.8 409.0,477.8 409.4,474.1 409.8,470.4 410.2,466.2 410.6,460.8 411.1,457.2 411.5,453.8 411.9,450.2 412.3,447.4 412.7,445.7 413.1,444.0 413.5,442.2 414.0,440.3 414.5,438.3 415.0,436.8 415.6,435.5 416.1,434.9 416.7,433.4 417.3,433.0 417.9,433.5 418.6,434.4 419.2,434.2 419.9,435.1 420.5,436.3 421.2,438.1 421.8,439.4 422.5,440.4 423.1,442.0 423.7,444.2 424.4,446.1 425.0,447.9 425.7,449.8 426.3,451.0 427.0,453.5 427.7,456.0 428.3,458.3 429.0,459.8 429.7,462.8 430.3,465.1 430.9,468.0 431.6,469.8 432.3,472.9 433.0,475.4 433.8,477.2 434.5,479.0 435.3,481.3 436.1,483.2 437.0,485.0 438.0,486.6 439.1,488.4 440.4,488.9 441.8,490.6 443.1,491.0 444.2,491.5 445.0,492.0" fill="none" stroke="#c8c8c8" stroke-width="0.9" stroke-linejoin="round"/>
<polyline points="410.0,492.0 410.4,491.7 410.9,491.3 411.5,490.8 412.1,490.4 412.8,489.6 413.5,488.4 414.2,486.7 414.9,485.2 415.7,483.1 416.4,480.4 417.2,478.3 418.0,474.5 418.8,471.3 419.6,467.4 420.4,463.4 421.3,459.7 422.1,456.2 423.0,453.7 423.9,451.8 424.9,449.7 426.0,449.1 427.0,448.6 427.9,447.9 428.8,447.2 429.5,447.5 430.2,447.0 430.8,447.4 431.3,447.4 432.0,448.5 432.7,449.2 433.6,449.4 434.5,451.8 435.5,453.6 436.5,455.0 437.5,456.8 438.5,459.2 439.4,460.9 440.3,463.3 441.2,465.6 442.1,466.9 443.1,468.7 444.2,470.8 445.3,472.8 446.5,474.6 447.7,475.9 449.0,477.2 450.5,478.7 452.0,480.8 453.7,481.8 455.5,482.7 457.4,484.5 459.4,485.5 461.4,487.2 463.5,487.5 465.8,488.6 468.4,489.3 471.0,490.4 473.4,491.1 475.5,491.6 477.0,492.0" fill="none" stroke="#9a9a9a" stroke-width="0.9" stroke-linejoin="round"/>
<polyline points="406.7,492.0 407.9,491.3 409.7,491.0 411.8,489.3 413.9,488.0 415.8,487.5 417.3,485.5 418.3,484.9 419.0,484.6 419.6,482.7 420.0,482.9 420.5,481.7 421.2,480.7 422.0,480.6 422.9,480.6 423.9,480.4 424.9,480.5 425.9,479.9 427.0,480.1 428.2,481.0 429.5,480.4 430.8,480.6 432.1,480.2 433.4,480.4 434.6,480.9 435.7,480.1 436.7,479.2 437.6,477.8 438.5,477.4 439.5,477.2 440.4,476.4 441.3,476.6 442.2,477.1 443.1,477.1 444.0,477.6 444.9,477.4 446.0,477.9 447.2,479.4 448.4,479.6 449.8,480.9 451.1,481.7 452.5,482.7 453.8,483.2 455.2,485.2 456.7,486.5 458.1,488.4 459.5,489.2 460.7,491.0 461.5,492.0" fill="none" stroke="#5a5a5a" stroke-width="0.8" stroke-linejoin="round"/>
<polyline points="440.4,492.0 440.7,491.0 441.1,490.1 441.6,488.1 442.1,486.9 442.6,484.9 443.0,481.7 443.4,479.3 443.7,476.1 444.0,473.0 444.4,469.4 444.7,466.5 445.2,462.5 445.8,459.3 446.4,456.1 447.1,452.2 447.8,449.2 448.4,446.8 449.0,444.3 449.5,441.3 449.9,439.2 450.3,438.6 450.7,437.6 451.1,436.5 451.5,435.8 452.0,436.4 452.6,438.5 453.1,440.2 453.7,441.1 454.3,443.4 454.8,445.7 455.3,447.5 455.8,450.3 456.2,452.1 456.7,454.9 457.2,456.5 457.7,459.2 458.3,462.1 458.8,464.1 459.4,465.7 460.1,468.0 460.7,470.8 461.5,472.5 462.3,474.4 463.2,476.3 464.2,478.0 465.2,480.0 466.2,480.6 467.3,482.4 468.5,483.3 469.7,484.9 471.0,486.3 472.4,486.7 473.7,488.1 475.0,489.2 476.4,489.2 477.9,490.7 479.3,490.9 480.7,491.4 481.9,491.7 482.7,492.0" fill="none" stroke="#9a9a9a" stroke-width="0.9" stroke-linejoin="round"/>
<line x1="406.70" y1="422.00" x2="406.70" y2="492.00" stroke="#b0b0b0" stroke-width="0.9"/>
<line x1="406.70" y1="492.30" x2="512.00" y2="492.30" stroke="#8a8a8a" stroke-width="0.9"/>
<line x1="407.00" y1="492.00" x2="407.00" y2="493.80" stroke="#888" stroke-width="0.7"/>
<text x="406.20" y="499.20" font-family="'Liberation Serif', serif" font-size="6.0" font-weight="normal" text-anchor="middle" fill="#000">10</text>
<text x="409.60" y="496.60" font-family="'Liberation Serif', serif" font-size="3.8" font-weight="normal" text-anchor="start" fill="#000">0</text>
<line x1="432.50" y1="492.00" x2="432.50" y2="493.80" stroke="#888" stroke-width="0.7"/>
<text x="431.70" y="499.20" font-family="'Liberation Serif', serif" font-size="6.0" font-weight="normal" text-anchor="middle" fill="#000">10</text>
<text x="435.10" y="496.60" font-family="'Liberation Serif', serif" font-size="3.8" font-weight="normal" text-anchor="start" fill="#000">1</text>
<line x1="459.40" y1="492.00" x2="459.40" y2="493.80" stroke="#888" stroke-width="0.7"/>
<text x="458.60" y="499.20" font-family="'Liberation Serif', serif" font-size="6.0" font-weight="normal" text-anchor="middle" fill="#000">10</text>
<text x="462.00" y="496.60" font-family="'Liberation Serif', serif" font-size="3.8" font-weight="normal" text-anchor="start" fill="#000">2</text>
<line x1="486.40" y1="492.00" x2="486.40" y2="493.80" stroke="#888" stroke-width="0.7"/>
<text x="485.60" y="499.20" font-family="'Liberation Serif', serif" font-size="6.0" font-weight="normal" text-anchor="middle" fill="#000">10</text>
<text x="489.00" y="496.60" font-family="'Liberation Serif', serif" font-size="3.8" font-weight="normal" text-anchor="start" fill="#000">3</text>
<line x1="511.40" y1="492.00" x2="511.40" y2="493.80" stroke="#888" stroke-width="0.7"/>
<text x="510.60" y="499.20" font-family="'Liberation Serif', serif" font-size="6.0" font-weight="normal" text-anchor="middle" fill="#000">10</text>
<text x="514.00" y="496.60" font-family="'Liberation Serif', serif" font-size="3.8" font-weight="normal" text-anchor="start" fill="#000">4</text>
<text x="404.30" y="420.00" font-family="'Liberation Serif', serif" font-size="7.0" font-weight="bold" text-anchor="end" fill="#222" transform="rotate(-90 404.30 420.00)">684</text>
<text x="404.30" y="493.50" font-family="'Liberation Serif', serif" font-size="6.5" font-weight="bold" text-anchor="middle" fill="#000" transform="rotate(-90 404.30 493.50)">0</text>
<text x="400.00" y="454.60" font-family="'Liberation Serif', serif" font-size="8.0" font-weight="normal" text-anchor="middle" fill="#000" transform="rotate(-90 400.00 454.60)" textLength="31" lengthAdjust="spacingAndGlyphs">EVENTS</text>
<text x="413.50" y="427.00" font-family="'Liberation Serif', serif" font-size="7.9" font-weight="bold" text-anchor="start" fill="#000">HNE</text>
<text x="436.50" y="427.00" font-family="'Liberation Serif', serif" font-size="7.9" font-weight="bold" text-anchor="start" fill="#000">HZ</text>
<text x="456.70" y="427.00" font-family="'Liberation Serif', serif" font-size="7.9" font-weight="bold" text-anchor="start" fill="#000">CTRL</text>
<line x1="423.00" y1="429.40" x2="428.50" y2="447.70" stroke="#222" stroke-width="0.9"/>
<line x1="441.30" y1="429.40" x2="436.50" y2="449.60" stroke="#222" stroke-width="0.9"/>
<line x1="462.50" y1="429.40" x2="456.70" y2="450.60" stroke="#222" stroke-width="0.9"/>
<text x="445.30" y="511.30" font-family="'Liberation Serif', serif" font-size="10.5" font-weight="normal" text-anchor="middle" fill="#000">EPOR</text>
<polygon points="411.5,599.5 412.2,598.7 413.2,597.5 414.3,596.3 415.6,595.0 416.8,593.7 418.0,591.5 419.1,590.6 420.3,588.6 421.4,587.5 422.6,586.0 423.8,584.2 425.0,583.3 426.3,582.3 427.6,581.6 428.9,581.1 430.2,579.5 431.5,578.8 432.7,578.0 433.8,577.1 434.8,575.8 435.7,574.6 436.6,572.4 437.6,570.9 438.5,570.5 439.5,568.1 440.5,567.1 441.5,566.0 442.5,564.4 443.4,563.1 444.2,562.8 444.8,561.4 445.4,561.2 445.8,561.3 446.2,560.4 446.6,560.8 447.1,561.3 447.6,562.0 448.0,562.4 448.5,563.8 449.0,564.6 449.5,566.0 450.0,567.8 450.6,569.2 451.1,572.1 451.7,573.3 452.4,575.4 453.0,578.1 453.8,579.9 454.6,581.1 455.5,583.5 456.5,584.9 457.5,586.2 458.5,588.0 459.6,588.9 460.8,590.1 462.0,591.9 463.2,592.3 464.5,593.8 465.9,593.8 467.3,594.6 468.9,595.3 470.7,597.1 472.6,597.7 474.4,598.4 475.9,599.0 477.0,599.5" fill="#fff" stroke="none"/>
<polygon points="425.0,599.5 425.8,599.0 426.8,598.3 428.1,596.8 429.4,595.9 430.8,595.7 432.0,594.0 433.1,593.0 434.2,590.4 435.3,589.4 436.4,586.9 437.5,585.7 438.5,583.6 439.5,581.5 440.5,578.8 441.5,577.4 442.5,574.0 443.4,571.6 444.2,570.2 445.0,567.4 445.6,565.3 446.3,563.8 446.9,562.1 447.4,560.6 448.0,558.8 448.5,556.4 449.1,555.6 449.6,554.4 450.0,552.4 450.5,552.4 451.0,551.4 451.5,551.6 451.9,551.9 452.3,553.7 452.8,554.6 453.3,556.5 453.8,557.5 454.4,558.8 455.0,560.9 455.7,563.1 456.4,566.2 457.0,567.5 457.7,569.5 458.3,571.8 458.9,573.5 459.5,576.0 460.1,578.1 460.8,580.0 461.5,581.1 462.3,582.6 463.2,584.4 464.2,585.9 465.2,586.9 466.2,588.2 467.3,589.7 468.5,589.9 469.7,591.0 470.9,592.3 472.2,593.3 473.6,594.6 475.0,595.1 476.6,596.1 478.4,596.7 480.3,598.0 482.0,598.4 483.5,599.0 484.6,599.5" fill="#fff" stroke="none"/>
<polygon points="405.8,599.5 406.6,598.9 407.8,598.0 409.2,597.4 410.6,595.5 412.1,594.0 413.5,592.7 414.8,591.3 416.1,590.2 417.5,587.6 418.8,586.1 420.0,584.0 421.2,582.0 422.3,578.3 423.4,576.0 424.4,572.2 425.4,568.8 426.2,566.6 427.0,564.6 427.6,562.7 428.2,561.0 428.6,561.4 429.0,560.2 429.4,560.1 429.8,559.7 430.3,558.5 430.8,558.0 431.3,557.4 431.8,556.8 432.3,556.6 432.7,557.8 433.1,558.2 433.3,560.0 433.6,560.6 433.9,562.6 434.2,564.2 434.6,566.7 435.1,568.1 435.7,570.0 436.3,571.2 437.0,572.4 437.7,574.3 438.5,575.5 439.3,576.4 440.3,578.1 441.2,578.8 442.2,579.4 443.2,580.7 444.2,582.0 445.2,582.8 446.1,582.9 447.1,583.1 448.1,584.5 449.0,584.3 450.0,585.4 450.9,585.5 451.9,587.2 452.8,587.3 453.7,587.8 454.7,588.2 455.8,589.3 457.0,590.5 458.2,590.6 459.4,591.1 460.7,592.3 462.1,593.6 463.5,593.9 465.1,595.1 466.9,596.5 468.7,596.8 470.5,598.0 471.9,598.9 473.0,599.5" fill="#acacac" stroke="#8a8a8a" stroke-width="0.7"/>
<polyline points="405.8,599.5 405.9,595.8 406.0,589.6 406.1,582.3 406.2,575.1 406.4,569.8 406.7,564.2 407.0,560.6 407.4,558.4 407.9,555.9 408.4,554.0 409.0,552.2 409.6,551.1 410.3,548.7 411.1,547.2 411.9,545.9 412.8,544.4 413.6,542.9 414.4,542.6 415.1,543.6 415.8,544.5 416.5,545.1 417.1,547.8 417.7,548.6 418.3,550.4 418.8,552.2 419.3,554.8 419.8,557.3 420.3,559.9 420.7,561.5 421.2,564.4 421.6,565.9 422.1,568.7 422.5,570.5 422.9,572.9 423.4,574.8 424.0,578.0 424.7,579.8 425.5,583.3 426.3,585.6 427.2,588.6 428.0,591.1 428.8,593.0 429.6,595.1 430.4,596.6 431.2,596.9 431.9,598.1 432.6,598.9 433.0,599.5" fill="none" stroke="#c8c8c8" stroke-width="0.9" stroke-linejoin="round"/>
<polyline points="411.5,599.5 412.2,598.7 413.2,597.4 414.3,596.7 415.6,594.4 416.8,593.3 418.0,591.9 419.1,591.2 420.3,588.7 421.4,587.8 422.6,586.5 423.8,585.0 425.0,582.9 426.3,582.9 427.6,581.2 428.9,581.0 430.2,579.9 431.5,578.7 432.7,578.1 433.8,576.7 434.8,575.1 435.7,574.2 436.6,572.6 437.6,571.6 438.5,570.1 439.5,569.0 440.5,566.8 441.5,565.7 442.5,563.8 443.4,563.5 444.2,562.6 444.8,562.1 445.4,560.6 445.8,560.9 446.2,560.8 446.6,560.5 447.1,560.9 447.6,562.5 448.0,563.2 448.5,563.5 449.0,565.5 449.5,566.7 450.0,567.9 450.6,569.8 451.1,571.3 451.7,573.3 452.4,575.1 453.0,577.9 453.8,579.7 454.6,581.7 455.5,583.1 456.5,584.7 457.5,586.1 458.5,588.1 459.6,589.0 460.8,590.5 462.0,591.8 463.2,592.4 464.5,593.5 465.9,593.6 467.3,594.7 468.9,596.3 470.7,596.3 472.6,597.1 474.4,598.4 475.9,599.0 477.0,599.5" fill="none" stroke="#9a9a9a" stroke-width="0.9" stroke-linejoin="round"/>
<polyline points="425.0,599.5 425.8,599.0 426.8,598.3 428.1,596.8 429.4,596.7 430.8,594.8 432.0,593.9 433.1,592.5 434.2,591.3 435.3,589.2 436.4,587.4 437.5,584.9 438.5,583.9 439.5,581.7 440.5,579.3 441.5,577.2 442.5,574.6 443.4,572.4 444.2,570.4 445.0,568.1 445.6,565.3 446.3,564.3 446.9,562.5 447.4,559.8 448.0,558.0 448.5,556.8 449.1,554.9 449.6,553.9 450.0,552.4 450.5,551.7 451.0,551.1 451.5,551.8 451.9,552.2 452.3,553.7 452.8,554.5 453.3,555.6 453.8,558.0 454.4,559.7 455.0,561.4 455.7,563.1 456.4,565.5 457.0,567.8 457.7,569.9 458.3,571.5 458.9,574.0 459.5,576.4 460.1,578.2 460.8,580.2 461.5,581.7 462.3,583.3 463.2,584.9 464.2,586.2 465.2,587.3 466.2,588.0 467.3,589.4 468.5,590.5 469.7,591.8 470.9,592.6 472.2,593.2 473.6,593.8 475.0,594.8 476.6,595.6 478.4,597.0 480.3,597.9 482.0,598.4 483.5,599.0 484.6,599.5" fill="none" stroke="#9a9a9a" stroke-width="0.9" stroke-linejoin="round"/>
<polyline points="405.8,599.5 406.5,598.8 407.4,597.4 408.5,596.6 409.6,595.8 410.8,594.0 412.0,592.5 413.1,592.1 414.2,590.8 415.4,589.6 416.6,588.8 417.8,587.6 419.2,586.9 420.7,586.4 422.3,585.2 424.0,584.3 425.7,584.1 427.3,583.8 428.8,582.9 430.2,581.5 431.6,581.4 432.9,579.5 434.2,578.8 435.4,577.8 436.5,577.2 437.5,577.1 438.5,576.4 439.4,575.3 440.3,575.1 441.1,574.2 442.0,574.5 442.9,574.2 443.7,574.4 444.5,574.4 445.4,575.3 446.2,576.1 447.0,577.4 447.8,577.7 448.6,579.0 449.3,581.1 450.1,581.6 451.0,583.7 452.0,584.7 453.1,586.5 454.4,587.8 455.7,588.6 457.1,590.7 458.5,591.6 460.0,592.8 461.7,594.7 463.6,595.9 465.5,596.5 467.3,598.1 468.9,598.8 470.0,599.5" fill="none" stroke="#5a5a5a" stroke-width="0.8" stroke-linejoin="round"/>
<line x1="405.80" y1="526.20" x2="405.80" y2="599.50" stroke="#b0b0b0" stroke-width="0.9"/>
<line x1="405.80" y1="599.80" x2="510.60" y2="599.80" stroke="#8a8a8a" stroke-width="0.9"/>
<line x1="407.00" y1="599.50" x2="407.00" y2="601.30" stroke="#888" stroke-width="0.7"/>
<text x="406.20" y="606.70" font-family="'Liberation Serif', serif" font-size="6.0" font-weight="normal" text-anchor="middle" fill="#000">10</text>
<text x="409.60" y="604.10" font-family="'Liberation Serif', serif" font-size="3.8" font-weight="normal" text-anchor="start" fill="#000">0</text>
<line x1="432.50" y1="599.50" x2="432.50" y2="601.30" stroke="#888" stroke-width="0.7"/>
<text x="431.70" y="606.70" font-family="'Liberation Serif', serif" font-size="6.0" font-weight="normal" text-anchor="middle" fill="#000">10</text>
<text x="435.10" y="604.10" font-family="'Liberation Serif', serif" font-size="3.8" font-weight="normal" text-anchor="start" fill="#000">1</text>
<line x1="458.00" y1="599.50" x2="458.00" y2="601.30" stroke="#888" stroke-width="0.7"/>
<text x="457.20" y="606.70" font-family="'Liberation Serif', serif" font-size="6.0" font-weight="normal" text-anchor="middle" fill="#000">10</text>
<text x="460.60" y="604.10" font-family="'Liberation Serif', serif" font-size="3.8" font-weight="normal" text-anchor="start" fill="#000">2</text>
<line x1="485.00" y1="599.50" x2="485.00" y2="601.30" stroke="#888" stroke-width="0.7"/>
<text x="484.20" y="606.70" font-family="'Liberation Serif', serif" font-size="6.0" font-weight="normal" text-anchor="middle" fill="#000">10</text>
<text x="487.60" y="604.10" font-family="'Liberation Serif', serif" font-size="3.8" font-weight="normal" text-anchor="start" fill="#000">3</text>
<line x1="510.60" y1="599.50" x2="510.60" y2="601.30" stroke="#888" stroke-width="0.7"/>
<text x="509.80" y="606.70" font-family="'Liberation Serif', serif" font-size="6.0" font-weight="normal" text-anchor="middle" fill="#000">10</text>
<text x="513.20" y="604.10" font-family="'Liberation Serif', serif" font-size="3.8" font-weight="normal" text-anchor="start" fill="#000">4</text>
<text x="404.40" y="524.20" font-family="'Liberation Serif', serif" font-size="7.0" font-weight="bold" text-anchor="end" fill="#222" transform="rotate(-90 404.40 524.20)">468</text>
<text x="403.40" y="601.00" font-family="'Liberation Serif', serif" font-size="6.5" font-weight="bold" text-anchor="middle" fill="#000" transform="rotate(-90 403.40 601.00)">0</text>
<text x="400.00" y="562.80" font-family="'Liberation Serif', serif" font-size="8.0" font-weight="normal" text-anchor="middle" fill="#000" transform="rotate(-90 400.00 562.80)" textLength="31" lengthAdjust="spacingAndGlyphs">EVENTS</text>
<text x="418.30" y="532.50" font-family="'Liberation Serif', serif" font-size="7.9" font-weight="bold" text-anchor="start" fill="#000">HZ</text>
<text x="432.70" y="532.50" font-family="'Liberation Serif', serif" font-size="7.9" font-weight="bold" text-anchor="start" fill="#000">HNE</text>
<text x="456.70" y="532.50" font-family="'Liberation Serif', serif" font-size="7.9" font-weight="bold" text-anchor="start" fill="#000">CTRL</text>
<line x1="427.90" y1="535.40" x2="430.80" y2="553.70" stroke="#222" stroke-width="0.9"/>
<line x1="438.50" y1="535.40" x2="443.80" y2="562.30" stroke="#222" stroke-width="0.9"/>
<line x1="457.70" y1="535.40" x2="454.20" y2="553.70" stroke="#222" stroke-width="0.9"/>
<text x="447.30" y="620.00" font-family="'Liberation Serif', serif" font-size="10.5" font-weight="normal" text-anchor="middle" fill="#000">IL3R</text>
</svg></body></html>
